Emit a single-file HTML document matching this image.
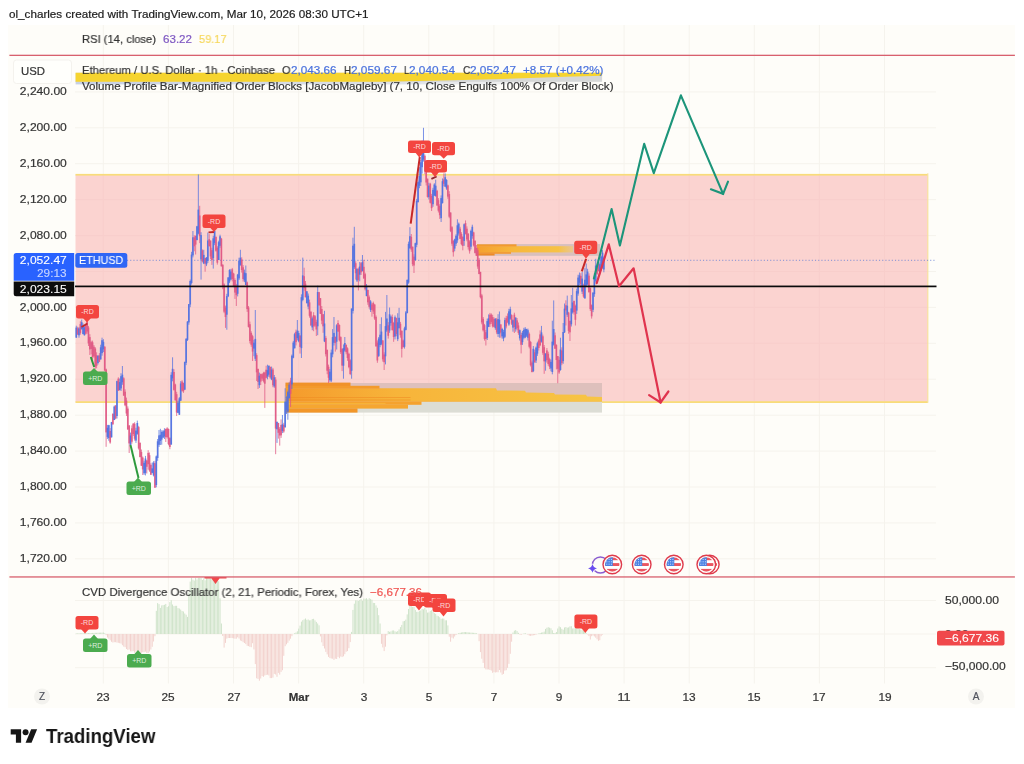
<!DOCTYPE html>
<html><head><meta charset="utf-8"><title>ETHUSD chart</title>
<style>
html,body{margin:0;padding:0;background:#ffffff;}
body{width:1024px;height:764px;position:relative;overflow:hidden;font-family:"Liberation Sans",sans-serif;}
.t{position:absolute;white-space:nowrap;font-family:"Liberation Sans",sans-serif;-webkit-text-stroke:0.2px currentColor;will-change:transform;}
#panel{position:absolute;left:8.3px;top:24.6px;width:1007.2px;height:683.8px;background:#fefdf9;}
svg{position:absolute;left:0;top:0;}
.box{position:absolute;}
</style></head><body>
<div id="panel"></div>
<svg width="1024" height="764" viewBox="0 0 1024 764">
<!-- grid -->
<rect x="102.8" y="25" width="1" height="658.5" fill="#f5f3ed"/>
<rect x="167.89999999999998" y="25" width="1" height="658.5" fill="#f5f3ed"/>
<rect x="233.0" y="25" width="1" height="658.5" fill="#f5f3ed"/>
<rect x="298.09999999999997" y="25" width="1" height="658.5" fill="#f5f3ed"/>
<rect x="363.2" y="25" width="1" height="658.5" fill="#f5f3ed"/>
<rect x="428.3" y="25" width="1" height="658.5" fill="#f5f3ed"/>
<rect x="493.4" y="25" width="1" height="658.5" fill="#f5f3ed"/>
<rect x="558.4999999999999" y="25" width="1" height="658.5" fill="#f5f3ed"/>
<rect x="623.5999999999999" y="25" width="1" height="658.5" fill="#f5f3ed"/>
<rect x="688.6999999999999" y="25" width="1" height="658.5" fill="#f5f3ed"/>
<rect x="753.8" y="25" width="1" height="658.5" fill="#f5f3ed"/>
<rect x="818.8999999999999" y="25" width="1" height="658.5" fill="#f5f3ed"/>
<rect x="883.9999999999999" y="25" width="1" height="658.5" fill="#f5f3ed"/>
<rect x="75" y="558.3" width="861" height="1" fill="#f5f3ed"/>
<rect x="75" y="522.4" width="861" height="1" fill="#f5f3ed"/>
<rect x="75" y="486.5" width="861" height="1" fill="#f5f3ed"/>
<rect x="75" y="450.6" width="861" height="1" fill="#f5f3ed"/>
<rect x="75" y="414.7" width="861" height="1" fill="#f5f3ed"/>
<rect x="75" y="378.7" width="861" height="1" fill="#f5f3ed"/>
<rect x="75" y="342.8" width="861" height="1" fill="#f5f3ed"/>
<rect x="75" y="306.9" width="861" height="1" fill="#f5f3ed"/>
<rect x="75" y="271.0" width="861" height="1" fill="#f5f3ed"/>
<rect x="75" y="235.1" width="861" height="1" fill="#f5f3ed"/>
<rect x="75" y="199.1" width="861" height="1" fill="#f5f3ed"/>
<rect x="75" y="163.2" width="861" height="1" fill="#f5f3ed"/>
<rect x="75" y="127.3" width="861" height="1" fill="#f5f3ed"/>
<rect x="75" y="91.4" width="861" height="1" fill="#f5f3ed"/>
<rect x="75" y="600.0" width="861" height="1" fill="#f5f3ed"/>
<rect x="75" y="633.5" width="861" height="1" fill="#f5f3ed"/>
<rect x="75" y="667.2" width="861" height="1" fill="#f5f3ed"/>
<!-- top order block stripe -->
<defs><linearGradient id="sg" x1="0" x2="1"><stop offset="0" stop-color="#c6d0e4"/><stop offset="0.6" stop-color="#d3d8e2" stop-opacity="0.8"/><stop offset="1" stop-color="#d8dadf" stop-opacity="0"/></linearGradient></defs>
<rect x="75.6" y="81" width="526.5" height="3.4" fill="url(#sg)"/>
<rect x="75.6" y="72.8" width="526.5" height="9" fill="#d6d8d8"/>
<polygon points="75.6,72.8 602.1,72.8 602.1,75.8 565,76.7 494,79.2 420,81 380,81.8 75.6,81.8" fill="#f6d42f"/>
<!-- pink zone -->
<rect x="75.5" y="174.6" width="852.5" height="227.6" fill="#fbd3d0"/>
<rect x="75.5" y="173.9" width="852.5" height="1.7" fill="#f8dc7a"/>
<rect x="75.5" y="401.2" width="852.5" height="1.8" fill="#f8dc7a"/>
<rect x="927.2" y="173.3" width="1.2" height="229.5" fill="#f8e3a0"/>
<g opacity="0.3"><rect x="102.8" y="175" width="1" height="226" fill="#f3c4c2"/><rect x="167.89999999999998" y="175" width="1" height="226" fill="#f3c4c2"/><rect x="233.0" y="175" width="1" height="226" fill="#f3c4c2"/><rect x="298.09999999999997" y="175" width="1" height="226" fill="#f3c4c2"/><rect x="363.2" y="175" width="1" height="226" fill="#f3c4c2"/><rect x="428.3" y="175" width="1" height="226" fill="#f3c4c2"/><rect x="493.4" y="175" width="1" height="226" fill="#f3c4c2"/><rect x="558.4999999999999" y="175" width="1" height="226" fill="#f3c4c2"/><rect x="623.5999999999999" y="175" width="1" height="226" fill="#f3c4c2"/><rect x="688.6999999999999" y="175" width="1" height="226" fill="#f3c4c2"/><rect x="753.8" y="175" width="1" height="226" fill="#f3c4c2"/><rect x="818.8999999999999" y="175" width="1" height="226" fill="#f3c4c2"/><rect x="883.9999999999999" y="175" width="1" height="226" fill="#f3c4c2"/>
<rect x="75.5" y="378.7" width="852" height="1" fill="#f3c4c2"/><rect x="75.5" y="342.8" width="852" height="1" fill="#f3c4c2"/><rect x="75.5" y="306.9" width="852" height="1" fill="#f3c4c2"/><rect x="75.5" y="271.0" width="852" height="1" fill="#f3c4c2"/><rect x="75.5" y="235.1" width="852" height="1" fill="#f3c4c2"/><rect x="75.5" y="199.1" width="852" height="1" fill="#f3c4c2"/></g>
<!-- order block bottom -->
<g id="ob1">
<rect x="285.5" y="383" width="316.5" height="19" fill="#dec0bc"/>
<rect x="285.5" y="402" width="316.5" height="10.6" fill="#dcddd5"/>
<defs><linearGradient id="og" x1="0" x2="1"><stop offset="0" stop-color="#f59a2c"/><stop offset="0.35" stop-color="#f7b43a"/><stop offset="1" stop-color="#f7c545"/></linearGradient></defs>
<polygon points="285.5,388.2 496,388.2 497,390.4 525,390.8 526,392.6 554,393 555,394.4 586,394.7 587,396.6 602,397 602,401.8 285.5,401.8" fill="url(#og)"/>
<rect x="285.5" y="382.6" width="65" height="3.4" fill="#f0922a"/>
<rect x="285.5" y="385.8" width="94" height="2.8" fill="#f39a2c"/>
<rect x="285.5" y="401.5" width="136" height="3.3" fill="#f5a22e"/>
<rect x="285.5" y="404.6" width="122.5" height="4" fill="#f6a630"/>
<rect x="285.5" y="408.4" width="72" height="4.2" fill="#f29628"/>
<rect x="285.5" y="397.2" width="125" height="0.8" fill="#f08c22" opacity="0.7"/>
<rect x="285.5" y="399.6" width="125" height="0.8" fill="#f08c22" opacity="0.7"/>
<rect x="285.5" y="403.2" width="100" height="0.7" fill="#f7c040" opacity="0.8"/>
</g>
<!-- order block upper -->
<g id="ob2">
<rect x="477" y="244.3" width="123" height="11.2" fill="#dcc0bc"/>
<rect x="477" y="244.3" width="123" height="0.8" fill="#c9bcc0" opacity="0.7"/>
<rect x="477" y="254.8" width="123" height="0.8" fill="#c9bcc0" opacity="0.7"/>
<defs><linearGradient id="og2" x1="0" x2="1"><stop offset="0" stop-color="#f5a030"/><stop offset="0.4" stop-color="#f7b83c"/><stop offset="0.85" stop-color="#f7c244"/><stop offset="1" stop-color="#f3c870" stop-opacity="0.6"/></linearGradient></defs>
<rect x="477" y="246.2" width="96" height="6.2" fill="url(#og2)"/>
<rect x="477" y="244.3" width="39.5" height="2.2" fill="#f39a2e"/>
<rect x="477" y="252.1" width="34" height="1.7" fill="#f39a2e"/>
<rect x="477" y="253.5" width="17.6" height="2" fill="#ee8a28"/>
</g>
<!-- dotted price line -->
<line x1="127" y1="260.3" x2="936" y2="260.3" stroke="#6f86d6" stroke-width="0.9" stroke-dasharray="1.1 2.1"/>
<!-- candles -->
<g id="candles">
<rect x="75.78" y="325.7" width="1" height="12.2" fill="#4f6fe0" opacity="0.75"/>
<rect x="75.43" y="327.6" width="1.7" height="10.0" fill="#4f6fe0" opacity="0.88"/>
<rect x="77.13" y="326.7" width="1" height="8.0" fill="#df5683" opacity="0.75"/>
<rect x="76.78" y="328.2" width="1.7" height="6.4" fill="#df5683" opacity="0.88"/>
<rect x="78.49" y="327.1" width="1" height="10.6" fill="#4f6fe0" opacity="0.75"/>
<rect x="78.14" y="328.4" width="1.7" height="6.9" fill="#4f6fe0" opacity="0.88"/>
<rect x="79.85" y="321.3" width="1" height="13.4" fill="#df5683" opacity="0.75"/>
<rect x="79.50" y="324.1" width="1.7" height="8.8" fill="#df5683" opacity="0.88"/>
<rect x="81.20" y="319.6" width="1" height="10.1" fill="#4f6fe0" opacity="0.75"/>
<rect x="80.85" y="322.2" width="1.7" height="6.7" fill="#4f6fe0" opacity="0.88"/>
<rect x="82.56" y="323.5" width="1" height="10.9" fill="#4f6fe0" opacity="0.75"/>
<rect x="82.21" y="326.0" width="1.7" height="8.0" fill="#4f6fe0" opacity="0.88"/>
<rect x="83.92" y="325.7" width="1" height="9.8" fill="#4f6fe0" opacity="0.75"/>
<rect x="83.57" y="327.3" width="1.7" height="8.0" fill="#4f6fe0" opacity="0.88"/>
<rect x="85.27" y="323.7" width="1" height="10.9" fill="#df5683" opacity="0.75"/>
<rect x="84.92" y="325.0" width="1.7" height="8.7" fill="#df5683" opacity="0.88"/>
<rect x="86.63" y="319.4" width="1" height="14.3" fill="#df5683" opacity="0.75"/>
<rect x="86.28" y="321.7" width="1.7" height="9.8" fill="#df5683" opacity="0.88"/>
<rect x="87.98" y="325.9" width="1" height="20.1" fill="#df5683" opacity="0.75"/>
<rect x="87.63" y="327.5" width="1.7" height="15.9" fill="#df5683" opacity="0.88"/>
<rect x="89.34" y="334.2" width="1" height="20.8" fill="#df5683" opacity="0.75"/>
<rect x="88.99" y="337.1" width="1.7" height="12.3" fill="#df5683" opacity="0.88"/>
<rect x="90.70" y="340.7" width="1" height="13.6" fill="#df5683" opacity="0.75"/>
<rect x="90.35" y="342.2" width="1.7" height="6.7" fill="#df5683" opacity="0.88"/>
<rect x="92.05" y="340.6" width="1" height="18.9" fill="#df5683" opacity="0.75"/>
<rect x="91.70" y="342.3" width="1.7" height="14.6" fill="#df5683" opacity="0.88"/>
<rect x="93.41" y="345.0" width="1" height="12.7" fill="#df5683" opacity="0.75"/>
<rect x="93.06" y="346.7" width="1.7" height="9.6" fill="#df5683" opacity="0.88"/>
<rect x="94.77" y="347.2" width="1" height="21.7" fill="#df5683" opacity="0.75"/>
<rect x="94.42" y="348.6" width="1.7" height="18.3" fill="#df5683" opacity="0.88"/>
<rect x="96.12" y="352.3" width="1" height="16.0" fill="#df5683" opacity="0.75"/>
<rect x="95.77" y="355.3" width="1.7" height="10.5" fill="#df5683" opacity="0.88"/>
<rect x="97.48" y="355.6" width="1" height="8.9" fill="#4f6fe0" opacity="0.75"/>
<rect x="97.13" y="355.6" width="1.7" height="7.4" fill="#4f6fe0" opacity="0.88"/>
<rect x="98.83" y="353.1" width="1" height="9.0" fill="#df5683" opacity="0.75"/>
<rect x="98.48" y="355.4" width="1.7" height="6.3" fill="#df5683" opacity="0.88"/>
<rect x="100.19" y="344.7" width="1" height="14.9" fill="#4f6fe0" opacity="0.75"/>
<rect x="99.84" y="347.3" width="1.7" height="12.1" fill="#4f6fe0" opacity="0.88"/>
<rect x="101.55" y="337.7" width="1" height="18.0" fill="#4f6fe0" opacity="0.75"/>
<rect x="101.20" y="340.2" width="1.7" height="12.9" fill="#4f6fe0" opacity="0.88"/>
<rect x="102.90" y="339.2" width="1" height="12.9" fill="#4f6fe0" opacity="0.75"/>
<rect x="102.55" y="341.9" width="1.7" height="7.4" fill="#4f6fe0" opacity="0.88"/>
<rect x="104.26" y="346.1" width="1" height="25.0" fill="#df5683" opacity="0.75"/>
<rect x="103.91" y="346.8" width="1.7" height="23.6" fill="#df5683" opacity="0.88"/>
<rect x="105.62" y="368.6" width="1" height="78.2" fill="#df5683" opacity="0.75"/>
<rect x="105.27" y="369.4" width="1.7" height="63.0" fill="#df5683" opacity="0.88"/>
<rect x="106.97" y="424.9" width="1" height="14.0" fill="#4f6fe0" opacity="0.75"/>
<rect x="106.62" y="427.8" width="1.7" height="9.1" fill="#4f6fe0" opacity="0.88"/>
<rect x="108.33" y="424.8" width="1" height="16.0" fill="#4f6fe0" opacity="0.75"/>
<rect x="107.98" y="425.2" width="1.7" height="12.9" fill="#4f6fe0" opacity="0.88"/>
<rect x="109.68" y="428.1" width="1" height="15.6" fill="#df5683" opacity="0.75"/>
<rect x="109.33" y="431.0" width="1.7" height="11.5" fill="#df5683" opacity="0.88"/>
<rect x="111.04" y="421.9" width="1" height="15.6" fill="#4f6fe0" opacity="0.75"/>
<rect x="110.69" y="422.1" width="1.7" height="15.2" fill="#4f6fe0" opacity="0.88"/>
<rect x="112.40" y="413.6" width="1" height="10.9" fill="#df5683" opacity="0.75"/>
<rect x="112.05" y="413.7" width="1.7" height="10.7" fill="#df5683" opacity="0.88"/>
<rect x="113.75" y="405.6" width="1" height="14.5" fill="#4f6fe0" opacity="0.75"/>
<rect x="113.40" y="406.6" width="1.7" height="13.4" fill="#4f6fe0" opacity="0.88"/>
<rect x="115.11" y="405.1" width="1" height="14.1" fill="#df5683" opacity="0.75"/>
<rect x="114.76" y="405.5" width="1.7" height="12.9" fill="#df5683" opacity="0.88"/>
<rect x="116.47" y="380.7" width="1" height="37.8" fill="#4f6fe0" opacity="0.75"/>
<rect x="116.12" y="381.1" width="1.7" height="34.9" fill="#4f6fe0" opacity="0.88"/>
<rect x="117.82" y="377.3" width="1" height="13.6" fill="#df5683" opacity="0.75"/>
<rect x="117.47" y="378.7" width="1.7" height="11.9" fill="#df5683" opacity="0.88"/>
<rect x="119.18" y="378.5" width="1" height="12.0" fill="#4f6fe0" opacity="0.75"/>
<rect x="118.83" y="382.1" width="1.7" height="7.9" fill="#4f6fe0" opacity="0.88"/>
<rect x="120.53" y="373.2" width="1" height="17.8" fill="#4f6fe0" opacity="0.75"/>
<rect x="120.18" y="376.2" width="1.7" height="12.2" fill="#4f6fe0" opacity="0.88"/>
<rect x="121.89" y="366.0" width="1" height="18.8" fill="#4f6fe0" opacity="0.75"/>
<rect x="121.54" y="374.7" width="1.7" height="7.5" fill="#4f6fe0" opacity="0.88"/>
<rect x="123.25" y="377.2" width="1" height="18.8" fill="#df5683" opacity="0.75"/>
<rect x="122.90" y="378.3" width="1.7" height="17.2" fill="#df5683" opacity="0.88"/>
<rect x="124.60" y="389.3" width="1" height="16.9" fill="#df5683" opacity="0.75"/>
<rect x="124.25" y="391.7" width="1.7" height="13.6" fill="#df5683" opacity="0.88"/>
<rect x="125.96" y="397.6" width="1" height="18.4" fill="#df5683" opacity="0.75"/>
<rect x="125.61" y="400.6" width="1.7" height="12.9" fill="#df5683" opacity="0.88"/>
<rect x="127.32" y="406.4" width="1" height="23.6" fill="#df5683" opacity="0.75"/>
<rect x="126.97" y="408.6" width="1.7" height="20.7" fill="#df5683" opacity="0.88"/>
<rect x="128.67" y="425.3" width="1" height="27.7" fill="#df5683" opacity="0.75"/>
<rect x="128.32" y="425.4" width="1.7" height="18.0" fill="#df5683" opacity="0.88"/>
<rect x="130.03" y="432.6" width="1" height="13.7" fill="#4f6fe0" opacity="0.75"/>
<rect x="129.68" y="435.5" width="1.7" height="9.5" fill="#4f6fe0" opacity="0.88"/>
<rect x="131.38" y="425.4" width="1" height="18.3" fill="#df5683" opacity="0.75"/>
<rect x="131.03" y="428.3" width="1.7" height="13.4" fill="#df5683" opacity="0.88"/>
<rect x="132.74" y="423.1" width="1" height="12.9" fill="#df5683" opacity="0.75"/>
<rect x="132.39" y="423.7" width="1.7" height="10.4" fill="#df5683" opacity="0.88"/>
<rect x="134.10" y="422.3" width="1" height="18.3" fill="#df5683" opacity="0.75"/>
<rect x="133.75" y="423.8" width="1.7" height="14.9" fill="#df5683" opacity="0.88"/>
<rect x="135.45" y="427.8" width="1" height="15.1" fill="#4f6fe0" opacity="0.75"/>
<rect x="135.10" y="430.6" width="1.7" height="10.0" fill="#4f6fe0" opacity="0.88"/>
<rect x="136.81" y="420.6" width="1" height="14.1" fill="#4f6fe0" opacity="0.75"/>
<rect x="136.46" y="423.0" width="1.7" height="10.8" fill="#4f6fe0" opacity="0.88"/>
<rect x="138.17" y="425.9" width="1" height="23.7" fill="#df5683" opacity="0.75"/>
<rect x="137.82" y="427.1" width="1.7" height="21.3" fill="#df5683" opacity="0.88"/>
<rect x="139.52" y="442.4" width="1" height="15.0" fill="#df5683" opacity="0.75"/>
<rect x="139.17" y="442.9" width="1.7" height="14.1" fill="#df5683" opacity="0.88"/>
<rect x="140.88" y="449.5" width="1" height="16.5" fill="#df5683" opacity="0.75"/>
<rect x="140.53" y="452.0" width="1.7" height="13.7" fill="#df5683" opacity="0.88"/>
<rect x="142.23" y="456.5" width="1" height="18.5" fill="#df5683" opacity="0.75"/>
<rect x="141.88" y="457.6" width="1.7" height="11.8" fill="#df5683" opacity="0.88"/>
<rect x="143.59" y="460.8" width="1" height="14.1" fill="#4f6fe0" opacity="0.75"/>
<rect x="143.24" y="462.8" width="1.7" height="10.5" fill="#4f6fe0" opacity="0.88"/>
<rect x="144.95" y="455.9" width="1" height="19.5" fill="#4f6fe0" opacity="0.75"/>
<rect x="144.60" y="458.5" width="1.7" height="14.4" fill="#4f6fe0" opacity="0.88"/>
<rect x="146.30" y="459.9" width="1" height="13.6" fill="#df5683" opacity="0.75"/>
<rect x="145.95" y="460.6" width="1.7" height="6.2" fill="#df5683" opacity="0.88"/>
<rect x="147.66" y="450.2" width="1" height="19.4" fill="#df5683" opacity="0.75"/>
<rect x="147.31" y="452.9" width="1.7" height="11.3" fill="#df5683" opacity="0.88"/>
<rect x="149.02" y="452.5" width="1" height="19.3" fill="#df5683" opacity="0.75"/>
<rect x="148.67" y="455.2" width="1.7" height="15.3" fill="#df5683" opacity="0.88"/>
<rect x="150.37" y="463.3" width="1" height="11.5" fill="#df5683" opacity="0.75"/>
<rect x="150.02" y="464.9" width="1.7" height="9.9" fill="#df5683" opacity="0.88"/>
<rect x="151.73" y="462.5" width="1" height="10.8" fill="#4f6fe0" opacity="0.75"/>
<rect x="151.38" y="468.4" width="1.7" height="4.4" fill="#4f6fe0" opacity="0.88"/>
<rect x="153.08" y="461.2" width="1" height="15.2" fill="#4f6fe0" opacity="0.75"/>
<rect x="152.73" y="462.8" width="1.7" height="12.5" fill="#4f6fe0" opacity="0.88"/>
<rect x="154.44" y="460.9" width="1" height="27.1" fill="#df5683" opacity="0.75"/>
<rect x="154.09" y="463.2" width="1.7" height="24.4" fill="#df5683" opacity="0.88"/>
<rect x="155.80" y="455.5" width="1" height="31.8" fill="#4f6fe0" opacity="0.75"/>
<rect x="155.45" y="456.4" width="1.7" height="28.6" fill="#4f6fe0" opacity="0.88"/>
<rect x="157.15" y="439.0" width="1" height="21.8" fill="#4f6fe0" opacity="0.75"/>
<rect x="156.80" y="441.3" width="1.7" height="16.7" fill="#4f6fe0" opacity="0.88"/>
<rect x="158.51" y="430.0" width="1" height="16.9" fill="#4f6fe0" opacity="0.75"/>
<rect x="158.16" y="435.4" width="1.7" height="9.4" fill="#4f6fe0" opacity="0.88"/>
<rect x="159.87" y="428.8" width="1" height="16.2" fill="#4f6fe0" opacity="0.75"/>
<rect x="159.52" y="434.8" width="1.7" height="6.2" fill="#4f6fe0" opacity="0.88"/>
<rect x="161.22" y="430.3" width="1" height="14.4" fill="#4f6fe0" opacity="0.75"/>
<rect x="160.87" y="432.0" width="1.7" height="7.6" fill="#4f6fe0" opacity="0.88"/>
<rect x="162.58" y="430.1" width="1" height="7.7" fill="#4f6fe0" opacity="0.75"/>
<rect x="162.23" y="431.4" width="1.7" height="6.2" fill="#4f6fe0" opacity="0.88"/>
<rect x="163.93" y="428.2" width="1" height="10.8" fill="#4f6fe0" opacity="0.75"/>
<rect x="163.58" y="430.6" width="1.7" height="5.8" fill="#4f6fe0" opacity="0.88"/>
<rect x="165.29" y="428.6" width="1" height="13.4" fill="#df5683" opacity="0.75"/>
<rect x="164.94" y="429.0" width="1.7" height="8.2" fill="#df5683" opacity="0.88"/>
<rect x="166.65" y="427.2" width="1" height="11.4" fill="#df5683" opacity="0.75"/>
<rect x="166.30" y="428.4" width="1.7" height="8.8" fill="#df5683" opacity="0.88"/>
<rect x="168.00" y="428.5" width="1" height="16.8" fill="#df5683" opacity="0.75"/>
<rect x="167.65" y="429.0" width="1.7" height="15.1" fill="#df5683" opacity="0.88"/>
<rect x="169.36" y="437.2" width="1" height="12.0" fill="#df5683" opacity="0.75"/>
<rect x="169.01" y="438.1" width="1.7" height="8.9" fill="#df5683" opacity="0.88"/>
<rect x="170.72" y="372.2" width="1" height="72.4" fill="#4f6fe0" opacity="0.75"/>
<rect x="170.37" y="374.8" width="1.7" height="69.8" fill="#4f6fe0" opacity="0.88"/>
<rect x="172.07" y="357.3" width="1" height="24.0" fill="#4f6fe0" opacity="0.75"/>
<rect x="171.72" y="368.8" width="1.7" height="9.5" fill="#4f6fe0" opacity="0.88"/>
<rect x="173.43" y="369.2" width="1" height="21.5" fill="#df5683" opacity="0.75"/>
<rect x="173.08" y="372.0" width="1.7" height="17.9" fill="#df5683" opacity="0.88"/>
<rect x="174.78" y="383.7" width="1" height="16.9" fill="#df5683" opacity="0.75"/>
<rect x="174.43" y="384.5" width="1.7" height="15.7" fill="#df5683" opacity="0.88"/>
<rect x="176.14" y="391.8" width="1" height="24.2" fill="#df5683" opacity="0.75"/>
<rect x="175.79" y="394.2" width="1.7" height="18.3" fill="#df5683" opacity="0.88"/>
<rect x="177.50" y="400.7" width="1" height="12.4" fill="#4f6fe0" opacity="0.75"/>
<rect x="177.15" y="402.8" width="1.7" height="10.0" fill="#4f6fe0" opacity="0.88"/>
<rect x="178.85" y="397.1" width="1" height="17.9" fill="#4f6fe0" opacity="0.75"/>
<rect x="178.50" y="398.3" width="1.7" height="16.4" fill="#4f6fe0" opacity="0.88"/>
<rect x="180.21" y="381.1" width="1" height="19.8" fill="#4f6fe0" opacity="0.75"/>
<rect x="179.86" y="383.5" width="1.7" height="17.2" fill="#4f6fe0" opacity="0.88"/>
<rect x="181.57" y="380.2" width="1" height="11.5" fill="#df5683" opacity="0.75"/>
<rect x="181.22" y="381.6" width="1.7" height="9.1" fill="#df5683" opacity="0.88"/>
<rect x="182.92" y="382.6" width="1" height="10.3" fill="#df5683" opacity="0.75"/>
<rect x="182.57" y="383.0" width="1.7" height="8.3" fill="#df5683" opacity="0.88"/>
<rect x="184.28" y="361.5" width="1" height="28.3" fill="#4f6fe0" opacity="0.75"/>
<rect x="183.93" y="362.0" width="1.7" height="27.7" fill="#4f6fe0" opacity="0.88"/>
<rect x="185.63" y="338.0" width="1" height="27.1" fill="#4f6fe0" opacity="0.75"/>
<rect x="185.28" y="338.9" width="1.7" height="23.9" fill="#4f6fe0" opacity="0.88"/>
<rect x="186.99" y="321.1" width="1" height="19.9" fill="#4f6fe0" opacity="0.75"/>
<rect x="186.64" y="321.6" width="1.7" height="18.3" fill="#4f6fe0" opacity="0.88"/>
<rect x="188.35" y="304.1" width="1" height="20.6" fill="#4f6fe0" opacity="0.75"/>
<rect x="188.00" y="304.1" width="1.7" height="18.3" fill="#4f6fe0" opacity="0.88"/>
<rect x="189.70" y="279.5" width="1" height="27.7" fill="#4f6fe0" opacity="0.75"/>
<rect x="189.35" y="281.0" width="1.7" height="23.5" fill="#4f6fe0" opacity="0.88"/>
<rect x="191.06" y="251.8" width="1" height="32.7" fill="#4f6fe0" opacity="0.75"/>
<rect x="190.71" y="254.6" width="1.7" height="28.4" fill="#4f6fe0" opacity="0.88"/>
<rect x="192.42" y="231.0" width="1" height="26.4" fill="#4f6fe0" opacity="0.75"/>
<rect x="192.07" y="237.3" width="1.7" height="18.1" fill="#4f6fe0" opacity="0.88"/>
<rect x="193.77" y="235.3" width="1" height="16.0" fill="#df5683" opacity="0.75"/>
<rect x="193.42" y="237.4" width="1.7" height="8.9" fill="#df5683" opacity="0.88"/>
<rect x="195.13" y="235.5" width="1" height="19.0" fill="#df5683" opacity="0.75"/>
<rect x="194.78" y="235.9" width="1.7" height="8.7" fill="#df5683" opacity="0.88"/>
<rect x="196.48" y="225.9" width="1" height="14.5" fill="#4f6fe0" opacity="0.75"/>
<rect x="196.13" y="226.3" width="1.7" height="13.7" fill="#4f6fe0" opacity="0.88"/>
<rect x="197.84" y="174.4" width="1" height="60.0" fill="#4f6fe0" opacity="0.75"/>
<rect x="197.49" y="209.6" width="1.7" height="24.0" fill="#4f6fe0" opacity="0.88"/>
<rect x="199.20" y="205.8" width="1" height="37.3" fill="#df5683" opacity="0.75"/>
<rect x="198.85" y="215.5" width="1.7" height="20.7" fill="#df5683" opacity="0.88"/>
<rect x="200.55" y="232.2" width="1" height="47.4" fill="#4f6fe0" opacity="0.75"/>
<rect x="200.20" y="235.1" width="1.7" height="24.4" fill="#4f6fe0" opacity="0.88"/>
<rect x="201.91" y="249.4" width="1" height="13.0" fill="#df5683" opacity="0.75"/>
<rect x="201.56" y="250.4" width="1.7" height="11.0" fill="#df5683" opacity="0.88"/>
<rect x="203.27" y="249.8" width="1" height="14.3" fill="#4f6fe0" opacity="0.75"/>
<rect x="202.92" y="254.9" width="1.7" height="8.6" fill="#4f6fe0" opacity="0.88"/>
<rect x="204.62" y="257.8" width="1" height="13.9" fill="#df5683" opacity="0.75"/>
<rect x="204.27" y="258.1" width="1.7" height="5.4" fill="#df5683" opacity="0.88"/>
<rect x="205.98" y="257.0" width="1" height="9.1" fill="#4f6fe0" opacity="0.75"/>
<rect x="205.63" y="257.7" width="1.7" height="6.7" fill="#4f6fe0" opacity="0.88"/>
<rect x="207.33" y="232.5" width="1" height="30.5" fill="#4f6fe0" opacity="0.75"/>
<rect x="206.98" y="240.5" width="1.7" height="20.4" fill="#4f6fe0" opacity="0.88"/>
<rect x="208.69" y="234.1" width="1" height="12.5" fill="#df5683" opacity="0.75"/>
<rect x="208.34" y="239.2" width="1.7" height="6.9" fill="#df5683" opacity="0.88"/>
<rect x="210.05" y="240.5" width="1" height="18.5" fill="#df5683" opacity="0.75"/>
<rect x="209.70" y="240.6" width="1.7" height="15.8" fill="#df5683" opacity="0.88"/>
<rect x="211.40" y="247.8" width="1" height="17.1" fill="#df5683" opacity="0.75"/>
<rect x="211.05" y="250.2" width="1.7" height="9.8" fill="#df5683" opacity="0.88"/>
<rect x="212.76" y="235.8" width="1" height="32.8" fill="#4f6fe0" opacity="0.75"/>
<rect x="212.41" y="238.3" width="1.7" height="19.8" fill="#4f6fe0" opacity="0.88"/>
<rect x="214.12" y="229.0" width="1" height="16.1" fill="#4f6fe0" opacity="0.75"/>
<rect x="213.77" y="231.0" width="1.7" height="11.9" fill="#4f6fe0" opacity="0.88"/>
<rect x="215.47" y="236.5" width="1" height="15.2" fill="#df5683" opacity="0.75"/>
<rect x="215.12" y="236.9" width="1.7" height="13.8" fill="#df5683" opacity="0.88"/>
<rect x="216.83" y="246.2" width="1" height="18.4" fill="#df5683" opacity="0.75"/>
<rect x="216.48" y="247.8" width="1.7" height="14.9" fill="#df5683" opacity="0.88"/>
<rect x="218.18" y="240.7" width="1" height="19.3" fill="#4f6fe0" opacity="0.75"/>
<rect x="217.83" y="242.2" width="1.7" height="17.8" fill="#4f6fe0" opacity="0.88"/>
<rect x="219.54" y="234.7" width="1" height="13.1" fill="#4f6fe0" opacity="0.75"/>
<rect x="219.19" y="236.3" width="1.7" height="9.5" fill="#4f6fe0" opacity="0.88"/>
<rect x="220.90" y="237.9" width="1" height="28.6" fill="#df5683" opacity="0.75"/>
<rect x="220.55" y="238.7" width="1.7" height="27.6" fill="#df5683" opacity="0.88"/>
<rect x="222.25" y="264.2" width="1" height="25.0" fill="#df5683" opacity="0.75"/>
<rect x="221.90" y="264.8" width="1.7" height="22.2" fill="#df5683" opacity="0.88"/>
<rect x="223.61" y="283.3" width="1" height="29.9" fill="#df5683" opacity="0.75"/>
<rect x="223.26" y="284.4" width="1.7" height="27.3" fill="#df5683" opacity="0.88"/>
<rect x="224.97" y="305.6" width="1" height="22.3" fill="#df5683" opacity="0.75"/>
<rect x="224.62" y="307.5" width="1.7" height="9.5" fill="#df5683" opacity="0.88"/>
<rect x="226.32" y="293.8" width="1" height="35.9" fill="#4f6fe0" opacity="0.75"/>
<rect x="225.97" y="296.1" width="1.7" height="18.6" fill="#4f6fe0" opacity="0.88"/>
<rect x="227.68" y="277.3" width="1" height="19.8" fill="#4f6fe0" opacity="0.75"/>
<rect x="227.33" y="277.4" width="1.7" height="18.9" fill="#4f6fe0" opacity="0.88"/>
<rect x="229.03" y="269.2" width="1" height="13.9" fill="#4f6fe0" opacity="0.75"/>
<rect x="228.68" y="270.0" width="1.7" height="11.5" fill="#4f6fe0" opacity="0.88"/>
<rect x="230.39" y="268.9" width="1" height="11.3" fill="#4f6fe0" opacity="0.75"/>
<rect x="230.04" y="271.5" width="1.7" height="8.0" fill="#4f6fe0" opacity="0.88"/>
<rect x="231.75" y="267.9" width="1" height="13.5" fill="#df5683" opacity="0.75"/>
<rect x="231.40" y="269.3" width="1.7" height="9.7" fill="#df5683" opacity="0.88"/>
<rect x="233.10" y="272.8" width="1" height="14.4" fill="#df5683" opacity="0.75"/>
<rect x="232.75" y="273.6" width="1.7" height="13.0" fill="#df5683" opacity="0.88"/>
<rect x="234.46" y="278.3" width="1" height="20.6" fill="#df5683" opacity="0.75"/>
<rect x="234.11" y="280.0" width="1.7" height="12.6" fill="#df5683" opacity="0.88"/>
<rect x="235.82" y="283.9" width="1" height="22.1" fill="#df5683" opacity="0.75"/>
<rect x="235.47" y="286.4" width="1.7" height="8.8" fill="#df5683" opacity="0.88"/>
<rect x="237.17" y="273.9" width="1" height="22.5" fill="#4f6fe0" opacity="0.75"/>
<rect x="236.82" y="274.6" width="1.7" height="19.2" fill="#4f6fe0" opacity="0.88"/>
<rect x="238.53" y="257.7" width="1" height="22.3" fill="#4f6fe0" opacity="0.75"/>
<rect x="238.18" y="260.6" width="1.7" height="17.8" fill="#4f6fe0" opacity="0.88"/>
<rect x="239.88" y="249.8" width="1" height="16.0" fill="#4f6fe0" opacity="0.75"/>
<rect x="239.53" y="257.7" width="1.7" height="7.2" fill="#4f6fe0" opacity="0.88"/>
<rect x="241.24" y="257.3" width="1" height="15.3" fill="#df5683" opacity="0.75"/>
<rect x="240.89" y="259.5" width="1.7" height="10.5" fill="#df5683" opacity="0.88"/>
<rect x="242.60" y="265.1" width="1" height="16.5" fill="#df5683" opacity="0.75"/>
<rect x="242.25" y="267.3" width="1.7" height="11.7" fill="#df5683" opacity="0.88"/>
<rect x="243.95" y="269.6" width="1" height="12.5" fill="#4f6fe0" opacity="0.75"/>
<rect x="243.60" y="272.6" width="1.7" height="7.7" fill="#4f6fe0" opacity="0.88"/>
<rect x="245.31" y="265.5" width="1" height="19.7" fill="#4f6fe0" opacity="0.75"/>
<rect x="244.96" y="273.2" width="1.7" height="11.8" fill="#4f6fe0" opacity="0.88"/>
<rect x="246.67" y="281.5" width="1" height="30.4" fill="#df5683" opacity="0.75"/>
<rect x="246.32" y="282.4" width="1.7" height="26.7" fill="#df5683" opacity="0.88"/>
<rect x="248.02" y="306.0" width="1" height="21.5" fill="#df5683" opacity="0.75"/>
<rect x="247.67" y="307.5" width="1.7" height="19.4" fill="#df5683" opacity="0.88"/>
<rect x="249.38" y="321.6" width="1" height="21.8" fill="#df5683" opacity="0.75"/>
<rect x="249.03" y="324.2" width="1.7" height="16.8" fill="#df5683" opacity="0.88"/>
<rect x="250.73" y="331.3" width="1" height="15.5" fill="#df5683" opacity="0.75"/>
<rect x="250.38" y="333.0" width="1.7" height="11.7" fill="#df5683" opacity="0.88"/>
<rect x="252.09" y="334.8" width="1" height="26.2" fill="#df5683" opacity="0.75"/>
<rect x="251.74" y="336.2" width="1.7" height="15.4" fill="#df5683" opacity="0.88"/>
<rect x="253.45" y="339.9" width="1" height="16.3" fill="#4f6fe0" opacity="0.75"/>
<rect x="253.10" y="342.7" width="1.7" height="5.9" fill="#4f6fe0" opacity="0.88"/>
<rect x="254.80" y="310.0" width="1" height="51.0" fill="#4f6fe0" opacity="0.75"/>
<rect x="254.45" y="338.9" width="1.7" height="19.9" fill="#4f6fe0" opacity="0.88"/>
<rect x="256.16" y="353.2" width="1" height="27.8" fill="#df5683" opacity="0.75"/>
<rect x="255.81" y="355.1" width="1.7" height="17.2" fill="#df5683" opacity="0.88"/>
<rect x="257.52" y="368.5" width="1" height="20.5" fill="#df5683" opacity="0.75"/>
<rect x="257.17" y="369.0" width="1.7" height="12.9" fill="#df5683" opacity="0.88"/>
<rect x="258.87" y="372.6" width="1" height="15.3" fill="#4f6fe0" opacity="0.75"/>
<rect x="258.52" y="375.7" width="1.7" height="9.5" fill="#4f6fe0" opacity="0.88"/>
<rect x="260.23" y="373.6" width="1" height="11.4" fill="#df5683" opacity="0.75"/>
<rect x="259.88" y="374.1" width="1.7" height="7.5" fill="#df5683" opacity="0.88"/>
<rect x="261.58" y="373.5" width="1" height="7.2" fill="#df5683" opacity="0.75"/>
<rect x="261.23" y="374.2" width="1.7" height="4.4" fill="#df5683" opacity="0.88"/>
<rect x="262.94" y="371.8" width="1" height="10.6" fill="#df5683" opacity="0.75"/>
<rect x="262.59" y="373.0" width="1.7" height="7.8" fill="#df5683" opacity="0.88"/>
<rect x="264.30" y="371.7" width="1" height="36.2" fill="#df5683" opacity="0.75"/>
<rect x="263.95" y="372.5" width="1.7" height="11.2" fill="#df5683" opacity="0.88"/>
<rect x="265.65" y="365.7" width="1" height="12.7" fill="#df5683" opacity="0.75"/>
<rect x="265.30" y="369.7" width="1.7" height="8.1" fill="#df5683" opacity="0.88"/>
<rect x="267.01" y="364.7" width="1" height="14.6" fill="#4f6fe0" opacity="0.75"/>
<rect x="266.66" y="370.2" width="1.7" height="6.2" fill="#4f6fe0" opacity="0.88"/>
<rect x="268.37" y="365.6" width="1" height="11.2" fill="#4f6fe0" opacity="0.75"/>
<rect x="268.02" y="365.7" width="1.7" height="9.0" fill="#4f6fe0" opacity="0.88"/>
<rect x="269.72" y="366.8" width="1" height="11.9" fill="#df5683" opacity="0.75"/>
<rect x="269.37" y="366.8" width="1.7" height="10.7" fill="#df5683" opacity="0.88"/>
<rect x="271.08" y="366.6" width="1" height="13.6" fill="#4f6fe0" opacity="0.75"/>
<rect x="270.73" y="369.5" width="1.7" height="9.9" fill="#4f6fe0" opacity="0.88"/>
<rect x="272.43" y="367.9" width="1" height="19.3" fill="#df5683" opacity="0.75"/>
<rect x="272.08" y="369.5" width="1.7" height="15.7" fill="#df5683" opacity="0.88"/>
<rect x="273.79" y="375.0" width="1" height="12.8" fill="#4f6fe0" opacity="0.75"/>
<rect x="273.44" y="377.3" width="1.7" height="9.1" fill="#4f6fe0" opacity="0.88"/>
<rect x="275.15" y="377.2" width="1" height="77.0" fill="#df5683" opacity="0.75"/>
<rect x="274.80" y="379.6" width="1.7" height="49.0" fill="#df5683" opacity="0.88"/>
<rect x="276.50" y="421.5" width="1" height="21.4" fill="#4f6fe0" opacity="0.75"/>
<rect x="276.15" y="421.9" width="1.7" height="7.4" fill="#4f6fe0" opacity="0.88"/>
<rect x="277.86" y="422.8" width="1" height="15.8" fill="#df5683" opacity="0.75"/>
<rect x="277.51" y="423.0" width="1.7" height="9.8" fill="#df5683" opacity="0.88"/>
<rect x="279.22" y="427.0" width="1" height="18.6" fill="#df5683" opacity="0.75"/>
<rect x="278.87" y="428.8" width="1.7" height="6.7" fill="#df5683" opacity="0.88"/>
<rect x="280.57" y="419.4" width="1" height="18.5" fill="#df5683" opacity="0.75"/>
<rect x="280.22" y="424.9" width="1.7" height="10.4" fill="#df5683" opacity="0.88"/>
<rect x="281.93" y="415.0" width="1" height="18.1" fill="#4f6fe0" opacity="0.75"/>
<rect x="281.58" y="424.3" width="1.7" height="6.6" fill="#4f6fe0" opacity="0.88"/>
<rect x="283.28" y="422.8" width="1" height="10.0" fill="#df5683" opacity="0.75"/>
<rect x="282.93" y="424.8" width="1.7" height="6.7" fill="#df5683" opacity="0.88"/>
<rect x="284.64" y="388.3" width="1" height="39.5" fill="#4f6fe0" opacity="0.75"/>
<rect x="284.29" y="401.7" width="1.7" height="25.4" fill="#4f6fe0" opacity="0.88"/>
<rect x="286.00" y="396.4" width="1" height="17.6" fill="#4f6fe0" opacity="0.75"/>
<rect x="285.65" y="401.5" width="1.7" height="8.2" fill="#4f6fe0" opacity="0.88"/>
<rect x="287.35" y="390.7" width="1" height="29.0" fill="#4f6fe0" opacity="0.75"/>
<rect x="287.00" y="392.2" width="1.7" height="19.5" fill="#4f6fe0" opacity="0.88"/>
<rect x="288.71" y="382.3" width="1" height="16.4" fill="#4f6fe0" opacity="0.75"/>
<rect x="288.36" y="384.8" width="1.7" height="13.2" fill="#4f6fe0" opacity="0.88"/>
<rect x="290.07" y="377.8" width="1" height="29.2" fill="#df5683" opacity="0.75"/>
<rect x="289.72" y="380.6" width="1.7" height="13.3" fill="#df5683" opacity="0.88"/>
<rect x="291.42" y="354.5" width="1" height="34.5" fill="#4f6fe0" opacity="0.75"/>
<rect x="291.07" y="355.7" width="1.7" height="28.7" fill="#4f6fe0" opacity="0.88"/>
<rect x="292.78" y="340.9" width="1" height="17.4" fill="#4f6fe0" opacity="0.75"/>
<rect x="292.43" y="342.6" width="1.7" height="15.1" fill="#4f6fe0" opacity="0.88"/>
<rect x="294.13" y="332.8" width="1" height="15.6" fill="#4f6fe0" opacity="0.75"/>
<rect x="293.78" y="334.2" width="1.7" height="14.1" fill="#4f6fe0" opacity="0.88"/>
<rect x="295.49" y="329.6" width="1" height="15.8" fill="#df5683" opacity="0.75"/>
<rect x="295.14" y="331.8" width="1.7" height="10.3" fill="#df5683" opacity="0.88"/>
<rect x="296.85" y="320.0" width="1" height="20.3" fill="#4f6fe0" opacity="0.75"/>
<rect x="296.50" y="330.6" width="1.7" height="7.5" fill="#4f6fe0" opacity="0.88"/>
<rect x="298.20" y="330.8" width="1" height="11.5" fill="#4f6fe0" opacity="0.75"/>
<rect x="297.85" y="333.1" width="1.7" height="8.2" fill="#4f6fe0" opacity="0.88"/>
<rect x="299.56" y="335.0" width="1" height="18.6" fill="#df5683" opacity="0.75"/>
<rect x="299.21" y="335.8" width="1.7" height="11.1" fill="#df5683" opacity="0.88"/>
<rect x="300.92" y="294.3" width="1" height="63.7" fill="#4f6fe0" opacity="0.75"/>
<rect x="300.57" y="297.2" width="1.7" height="50.9" fill="#4f6fe0" opacity="0.88"/>
<rect x="302.27" y="257.6" width="1" height="43.6" fill="#4f6fe0" opacity="0.75"/>
<rect x="301.92" y="275.4" width="1.7" height="24.5" fill="#4f6fe0" opacity="0.88"/>
<rect x="303.63" y="267.7" width="1" height="23.1" fill="#df5683" opacity="0.75"/>
<rect x="303.28" y="276.2" width="1.7" height="11.9" fill="#df5683" opacity="0.88"/>
<rect x="304.98" y="281.0" width="1" height="16.3" fill="#df5683" opacity="0.75"/>
<rect x="304.63" y="283.7" width="1.7" height="13.6" fill="#df5683" opacity="0.88"/>
<rect x="306.34" y="291.2" width="1" height="12.1" fill="#4f6fe0" opacity="0.75"/>
<rect x="305.99" y="291.3" width="1.7" height="11.9" fill="#4f6fe0" opacity="0.88"/>
<rect x="307.70" y="293.5" width="1" height="15.8" fill="#4f6fe0" opacity="0.75"/>
<rect x="307.35" y="295.7" width="1.7" height="10.9" fill="#4f6fe0" opacity="0.88"/>
<rect x="309.05" y="299.6" width="1" height="18.1" fill="#df5683" opacity="0.75"/>
<rect x="308.70" y="302.4" width="1.7" height="13.4" fill="#df5683" opacity="0.88"/>
<rect x="310.41" y="310.9" width="1" height="15.2" fill="#df5683" opacity="0.75"/>
<rect x="310.06" y="311.9" width="1.7" height="13.4" fill="#df5683" opacity="0.88"/>
<rect x="311.77" y="316.5" width="1" height="13.7" fill="#4f6fe0" opacity="0.75"/>
<rect x="311.42" y="318.4" width="1.7" height="9.0" fill="#4f6fe0" opacity="0.88"/>
<rect x="313.12" y="312.2" width="1" height="19.0" fill="#df5683" opacity="0.75"/>
<rect x="312.77" y="315.1" width="1.7" height="11.2" fill="#df5683" opacity="0.88"/>
<rect x="314.48" y="315.0" width="1" height="12.1" fill="#df5683" opacity="0.75"/>
<rect x="314.13" y="316.2" width="1.7" height="9.4" fill="#df5683" opacity="0.88"/>
<rect x="315.83" y="319.7" width="1" height="16.3" fill="#df5683" opacity="0.75"/>
<rect x="315.48" y="321.9" width="1.7" height="7.6" fill="#df5683" opacity="0.88"/>
<rect x="317.19" y="285.7" width="1" height="49.5" fill="#4f6fe0" opacity="0.75"/>
<rect x="316.84" y="292.0" width="1.7" height="34.3" fill="#4f6fe0" opacity="0.88"/>
<rect x="318.55" y="291.9" width="1" height="13.9" fill="#df5683" opacity="0.75"/>
<rect x="318.20" y="292.2" width="1.7" height="13.0" fill="#df5683" opacity="0.88"/>
<rect x="319.90" y="298.0" width="1" height="15.9" fill="#df5683" opacity="0.75"/>
<rect x="319.55" y="298.2" width="1.7" height="15.6" fill="#df5683" opacity="0.88"/>
<rect x="321.26" y="306.0" width="1" height="18.2" fill="#df5683" opacity="0.75"/>
<rect x="320.91" y="309.0" width="1.7" height="11.6" fill="#df5683" opacity="0.88"/>
<rect x="322.62" y="314.0" width="1" height="18.8" fill="#df5683" opacity="0.75"/>
<rect x="322.27" y="314.3" width="1.7" height="12.0" fill="#df5683" opacity="0.88"/>
<rect x="323.97" y="310.8" width="1" height="31.3" fill="#4f6fe0" opacity="0.75"/>
<rect x="323.62" y="323.5" width="1.7" height="17.9" fill="#4f6fe0" opacity="0.88"/>
<rect x="325.33" y="335.9" width="1" height="20.6" fill="#df5683" opacity="0.75"/>
<rect x="324.98" y="337.9" width="1.7" height="16.3" fill="#df5683" opacity="0.88"/>
<rect x="326.68" y="349.5" width="1" height="24.7" fill="#df5683" opacity="0.75"/>
<rect x="326.33" y="349.9" width="1.7" height="20.8" fill="#df5683" opacity="0.88"/>
<rect x="328.04" y="364.6" width="1" height="18.4" fill="#df5683" opacity="0.75"/>
<rect x="327.69" y="366.8" width="1.7" height="11.0" fill="#df5683" opacity="0.88"/>
<rect x="329.40" y="369.0" width="1" height="12.8" fill="#4f6fe0" opacity="0.75"/>
<rect x="329.05" y="371.7" width="1.7" height="8.4" fill="#4f6fe0" opacity="0.88"/>
<rect x="330.75" y="349.6" width="1" height="32.5" fill="#4f6fe0" opacity="0.75"/>
<rect x="330.40" y="352.6" width="1.7" height="28.0" fill="#4f6fe0" opacity="0.88"/>
<rect x="332.11" y="329.1" width="1" height="28.2" fill="#4f6fe0" opacity="0.75"/>
<rect x="331.76" y="337.1" width="1.7" height="17.2" fill="#4f6fe0" opacity="0.88"/>
<rect x="333.47" y="317.0" width="1" height="28.5" fill="#4f6fe0" opacity="0.75"/>
<rect x="333.12" y="332.9" width="1.7" height="9.9" fill="#4f6fe0" opacity="0.88"/>
<rect x="334.82" y="336.4" width="1" height="15.2" fill="#df5683" opacity="0.75"/>
<rect x="334.47" y="337.0" width="1.7" height="6.1" fill="#df5683" opacity="0.88"/>
<rect x="336.18" y="324.2" width="1" height="25.3" fill="#4f6fe0" opacity="0.75"/>
<rect x="335.83" y="325.3" width="1.7" height="16.4" fill="#4f6fe0" opacity="0.88"/>
<rect x="337.53" y="320.2" width="1" height="11.7" fill="#df5683" opacity="0.75"/>
<rect x="337.18" y="323.0" width="1.7" height="8.5" fill="#df5683" opacity="0.88"/>
<rect x="338.89" y="324.4" width="1" height="17.1" fill="#df5683" opacity="0.75"/>
<rect x="338.54" y="325.0" width="1.7" height="15.3" fill="#df5683" opacity="0.88"/>
<rect x="340.25" y="336.3" width="1" height="17.7" fill="#df5683" opacity="0.75"/>
<rect x="339.90" y="337.1" width="1.7" height="15.1" fill="#df5683" opacity="0.88"/>
<rect x="341.60" y="348.7" width="1" height="22.4" fill="#df5683" opacity="0.75"/>
<rect x="341.25" y="348.7" width="1.7" height="16.9" fill="#df5683" opacity="0.88"/>
<rect x="342.96" y="344.4" width="1" height="34.3" fill="#4f6fe0" opacity="0.75"/>
<rect x="342.61" y="348.1" width="1.7" height="17.6" fill="#4f6fe0" opacity="0.88"/>
<rect x="344.32" y="337.0" width="1" height="14.7" fill="#4f6fe0" opacity="0.75"/>
<rect x="343.97" y="343.0" width="1.7" height="7.5" fill="#4f6fe0" opacity="0.88"/>
<rect x="345.67" y="344.4" width="1" height="9.9" fill="#df5683" opacity="0.75"/>
<rect x="345.32" y="344.9" width="1.7" height="7.3" fill="#df5683" opacity="0.88"/>
<rect x="347.03" y="347.3" width="1" height="13.5" fill="#df5683" opacity="0.75"/>
<rect x="346.68" y="348.3" width="1.7" height="9.7" fill="#df5683" opacity="0.88"/>
<rect x="348.38" y="352.7" width="1" height="15.6" fill="#df5683" opacity="0.75"/>
<rect x="348.03" y="353.8" width="1.7" height="13.3" fill="#df5683" opacity="0.88"/>
<rect x="349.74" y="359.2" width="1" height="15.9" fill="#df5683" opacity="0.75"/>
<rect x="349.39" y="360.3" width="1.7" height="13.7" fill="#df5683" opacity="0.88"/>
<rect x="351.10" y="308.5" width="1" height="70.2" fill="#4f6fe0" opacity="0.75"/>
<rect x="350.75" y="308.5" width="1.7" height="62.3" fill="#4f6fe0" opacity="0.88"/>
<rect x="352.45" y="237.7" width="1" height="75.8" fill="#4f6fe0" opacity="0.75"/>
<rect x="352.10" y="245.7" width="1.7" height="65.2" fill="#4f6fe0" opacity="0.88"/>
<rect x="353.81" y="226.8" width="1" height="42.2" fill="#4f6fe0" opacity="0.75"/>
<rect x="353.46" y="243.8" width="1.7" height="23.5" fill="#4f6fe0" opacity="0.88"/>
<rect x="355.17" y="261.3" width="1" height="18.3" fill="#df5683" opacity="0.75"/>
<rect x="354.82" y="263.2" width="1.7" height="10.0" fill="#df5683" opacity="0.88"/>
<rect x="356.52" y="268.1" width="1" height="13.9" fill="#4f6fe0" opacity="0.75"/>
<rect x="356.17" y="269.0" width="1.7" height="11.5" fill="#4f6fe0" opacity="0.88"/>
<rect x="357.88" y="267.6" width="1" height="22.8" fill="#df5683" opacity="0.75"/>
<rect x="357.53" y="269.1" width="1.7" height="10.8" fill="#df5683" opacity="0.88"/>
<rect x="359.23" y="262.0" width="1" height="19.3" fill="#4f6fe0" opacity="0.75"/>
<rect x="358.88" y="266.5" width="1.7" height="8.2" fill="#4f6fe0" opacity="0.88"/>
<rect x="360.59" y="262.0" width="1" height="13.0" fill="#df5683" opacity="0.75"/>
<rect x="360.24" y="263.2" width="1.7" height="9.1" fill="#df5683" opacity="0.88"/>
<rect x="361.95" y="255.0" width="1" height="16.5" fill="#4f6fe0" opacity="0.75"/>
<rect x="361.60" y="262.2" width="1.7" height="8.7" fill="#4f6fe0" opacity="0.88"/>
<rect x="363.30" y="259.9" width="1" height="19.0" fill="#df5683" opacity="0.75"/>
<rect x="362.95" y="266.8" width="1.7" height="11.5" fill="#df5683" opacity="0.88"/>
<rect x="364.66" y="272.7" width="1" height="17.8" fill="#df5683" opacity="0.75"/>
<rect x="364.31" y="274.2" width="1.7" height="15.1" fill="#df5683" opacity="0.88"/>
<rect x="366.02" y="284.0" width="1" height="12.2" fill="#4f6fe0" opacity="0.75"/>
<rect x="365.67" y="286.7" width="1.7" height="9.4" fill="#4f6fe0" opacity="0.88"/>
<rect x="367.37" y="289.8" width="1" height="15.0" fill="#df5683" opacity="0.75"/>
<rect x="367.02" y="289.9" width="1.7" height="12.4" fill="#df5683" opacity="0.88"/>
<rect x="368.73" y="295.5" width="1" height="13.2" fill="#df5683" opacity="0.75"/>
<rect x="368.38" y="297.2" width="1.7" height="9.6" fill="#df5683" opacity="0.88"/>
<rect x="370.08" y="300.1" width="1" height="11.9" fill="#4f6fe0" opacity="0.75"/>
<rect x="369.73" y="301.4" width="1.7" height="8.6" fill="#4f6fe0" opacity="0.88"/>
<rect x="371.44" y="302.7" width="1" height="14.0" fill="#df5683" opacity="0.75"/>
<rect x="371.09" y="304.5" width="1.7" height="5.3" fill="#df5683" opacity="0.88"/>
<rect x="372.80" y="301.6" width="1" height="12.4" fill="#df5683" opacity="0.75"/>
<rect x="372.45" y="303.0" width="1.7" height="8.5" fill="#df5683" opacity="0.88"/>
<rect x="374.15" y="304.2" width="1" height="15.7" fill="#df5683" opacity="0.75"/>
<rect x="373.80" y="304.5" width="1.7" height="14.0" fill="#df5683" opacity="0.88"/>
<rect x="375.51" y="315.4" width="1" height="31.1" fill="#df5683" opacity="0.75"/>
<rect x="375.16" y="316.9" width="1.7" height="29.5" fill="#df5683" opacity="0.88"/>
<rect x="376.87" y="340.4" width="1" height="22.4" fill="#df5683" opacity="0.75"/>
<rect x="376.52" y="342.6" width="1.7" height="17.9" fill="#df5683" opacity="0.88"/>
<rect x="378.22" y="337.0" width="1" height="20.0" fill="#4f6fe0" opacity="0.75"/>
<rect x="377.87" y="338.5" width="1.7" height="17.4" fill="#4f6fe0" opacity="0.88"/>
<rect x="379.58" y="324.0" width="1" height="23.2" fill="#4f6fe0" opacity="0.75"/>
<rect x="379.23" y="334.7" width="1.7" height="10.3" fill="#4f6fe0" opacity="0.88"/>
<rect x="380.93" y="317.3" width="1" height="27.9" fill="#4f6fe0" opacity="0.75"/>
<rect x="380.58" y="331.6" width="1.7" height="12.2" fill="#4f6fe0" opacity="0.88"/>
<rect x="382.29" y="340.0" width="1" height="21.6" fill="#df5683" opacity="0.75"/>
<rect x="381.94" y="340.5" width="1.7" height="18.8" fill="#df5683" opacity="0.88"/>
<rect x="383.65" y="352.3" width="1" height="17.7" fill="#df5683" opacity="0.75"/>
<rect x="383.30" y="354.5" width="1.7" height="7.7" fill="#df5683" opacity="0.88"/>
<rect x="385.00" y="311.9" width="1" height="52.5" fill="#4f6fe0" opacity="0.75"/>
<rect x="384.65" y="326.1" width="1.7" height="30.2" fill="#4f6fe0" opacity="0.88"/>
<rect x="386.36" y="295.0" width="1" height="37.0" fill="#4f6fe0" opacity="0.75"/>
<rect x="386.01" y="318.5" width="1.7" height="12.0" fill="#4f6fe0" opacity="0.88"/>
<rect x="387.72" y="322.1" width="1" height="16.5" fill="#df5683" opacity="0.75"/>
<rect x="387.37" y="325.3" width="1.7" height="10.5" fill="#df5683" opacity="0.88"/>
<rect x="389.07" y="307.5" width="1" height="25.3" fill="#4f6fe0" opacity="0.75"/>
<rect x="388.72" y="314.3" width="1.7" height="16.2" fill="#4f6fe0" opacity="0.88"/>
<rect x="390.43" y="315.5" width="1" height="10.2" fill="#4f6fe0" opacity="0.75"/>
<rect x="390.08" y="316.6" width="1.7" height="6.5" fill="#4f6fe0" opacity="0.88"/>
<rect x="391.78" y="314.5" width="1" height="16.0" fill="#df5683" opacity="0.75"/>
<rect x="391.43" y="317.1" width="1.7" height="13.0" fill="#df5683" opacity="0.88"/>
<rect x="393.14" y="321.9" width="1" height="19.9" fill="#df5683" opacity="0.75"/>
<rect x="392.79" y="323.0" width="1.7" height="14.0" fill="#df5683" opacity="0.88"/>
<rect x="394.50" y="315.5" width="1" height="23.9" fill="#4f6fe0" opacity="0.75"/>
<rect x="394.15" y="317.2" width="1.7" height="19.3" fill="#4f6fe0" opacity="0.88"/>
<rect x="395.85" y="317.6" width="1" height="18.7" fill="#df5683" opacity="0.75"/>
<rect x="395.50" y="318.1" width="1.7" height="15.9" fill="#df5683" opacity="0.88"/>
<rect x="397.21" y="313.2" width="1" height="27.9" fill="#4f6fe0" opacity="0.75"/>
<rect x="396.86" y="322.3" width="1.7" height="16.9" fill="#4f6fe0" opacity="0.88"/>
<rect x="398.57" y="307.8" width="1" height="20.5" fill="#4f6fe0" opacity="0.75"/>
<rect x="398.22" y="317.8" width="1.7" height="10.4" fill="#4f6fe0" opacity="0.88"/>
<rect x="399.92" y="321.9" width="1" height="15.8" fill="#df5683" opacity="0.75"/>
<rect x="399.57" y="323.8" width="1.7" height="11.4" fill="#df5683" opacity="0.88"/>
<rect x="401.28" y="330.4" width="1" height="27.1" fill="#df5683" opacity="0.75"/>
<rect x="400.93" y="330.8" width="1.7" height="18.1" fill="#df5683" opacity="0.88"/>
<rect x="402.63" y="339.5" width="1" height="8.0" fill="#df5683" opacity="0.75"/>
<rect x="402.28" y="340.5" width="1.7" height="6.6" fill="#df5683" opacity="0.88"/>
<rect x="403.99" y="326.7" width="1" height="21.9" fill="#4f6fe0" opacity="0.75"/>
<rect x="403.64" y="328.4" width="1.7" height="18.4" fill="#4f6fe0" opacity="0.88"/>
<rect x="405.35" y="311.0" width="1" height="19.4" fill="#4f6fe0" opacity="0.75"/>
<rect x="405.00" y="312.4" width="1.7" height="17.5" fill="#4f6fe0" opacity="0.88"/>
<rect x="406.70" y="279.4" width="1" height="33.9" fill="#4f6fe0" opacity="0.75"/>
<rect x="406.35" y="279.9" width="1.7" height="33.2" fill="#4f6fe0" opacity="0.88"/>
<rect x="408.06" y="241.6" width="1" height="42.2" fill="#4f6fe0" opacity="0.75"/>
<rect x="407.71" y="243.9" width="1.7" height="38.7" fill="#4f6fe0" opacity="0.88"/>
<rect x="409.42" y="227.2" width="1" height="21.8" fill="#4f6fe0" opacity="0.75"/>
<rect x="409.07" y="236.2" width="1.7" height="11.8" fill="#4f6fe0" opacity="0.88"/>
<rect x="410.77" y="234.0" width="1" height="17.8" fill="#df5683" opacity="0.75"/>
<rect x="410.42" y="236.8" width="1.7" height="12.8" fill="#df5683" opacity="0.88"/>
<rect x="412.13" y="246.6" width="1" height="19.6" fill="#df5683" opacity="0.75"/>
<rect x="411.78" y="246.7" width="1.7" height="17.5" fill="#df5683" opacity="0.88"/>
<rect x="413.48" y="254.3" width="1" height="18.7" fill="#df5683" opacity="0.75"/>
<rect x="413.13" y="256.6" width="1.7" height="8.9" fill="#df5683" opacity="0.88"/>
<rect x="414.84" y="242.7" width="1" height="17.8" fill="#4f6fe0" opacity="0.75"/>
<rect x="414.49" y="243.2" width="1.7" height="16.8" fill="#4f6fe0" opacity="0.88"/>
<rect x="416.20" y="198.9" width="1" height="48.3" fill="#4f6fe0" opacity="0.75"/>
<rect x="415.85" y="200.8" width="1.7" height="44.0" fill="#4f6fe0" opacity="0.88"/>
<rect x="417.55" y="180.5" width="1" height="21.8" fill="#4f6fe0" opacity="0.75"/>
<rect x="417.20" y="182.1" width="1.7" height="20.1" fill="#4f6fe0" opacity="0.88"/>
<rect x="418.91" y="167.1" width="1" height="21.1" fill="#4f6fe0" opacity="0.75"/>
<rect x="418.56" y="176.1" width="1.7" height="9.6" fill="#4f6fe0" opacity="0.88"/>
<rect x="420.27" y="160.0" width="1" height="26.0" fill="#4f6fe0" opacity="0.75"/>
<rect x="419.92" y="162.3" width="1.7" height="20.0" fill="#4f6fe0" opacity="0.88"/>
<rect x="421.62" y="140.5" width="1" height="33.1" fill="#4f6fe0" opacity="0.75"/>
<rect x="421.27" y="152.9" width="1.7" height="14.3" fill="#4f6fe0" opacity="0.88"/>
<rect x="422.98" y="127.8" width="1" height="33.8" fill="#4f6fe0" opacity="0.75"/>
<rect x="422.63" y="147.6" width="1.7" height="11.9" fill="#4f6fe0" opacity="0.88"/>
<rect x="424.33" y="154.5" width="1" height="19.6" fill="#df5683" opacity="0.75"/>
<rect x="423.98" y="155.8" width="1.7" height="15.9" fill="#df5683" opacity="0.88"/>
<rect x="425.69" y="166.2" width="1" height="19.3" fill="#df5683" opacity="0.75"/>
<rect x="425.34" y="168.1" width="1.7" height="14.4" fill="#df5683" opacity="0.88"/>
<rect x="427.05" y="178.6" width="1" height="19.0" fill="#df5683" opacity="0.75"/>
<rect x="426.70" y="178.7" width="1.7" height="18.2" fill="#df5683" opacity="0.88"/>
<rect x="428.40" y="182.8" width="1" height="16.7" fill="#4f6fe0" opacity="0.75"/>
<rect x="428.05" y="185.6" width="1.7" height="11.6" fill="#4f6fe0" opacity="0.88"/>
<rect x="429.76" y="182.8" width="1" height="20.7" fill="#df5683" opacity="0.75"/>
<rect x="429.41" y="183.8" width="1.7" height="19.0" fill="#df5683" opacity="0.88"/>
<rect x="431.12" y="193.9" width="1" height="17.1" fill="#df5683" opacity="0.75"/>
<rect x="430.77" y="195.9" width="1.7" height="12.2" fill="#df5683" opacity="0.88"/>
<rect x="432.47" y="187.8" width="1" height="19.0" fill="#4f6fe0" opacity="0.75"/>
<rect x="432.12" y="189.9" width="1.7" height="14.3" fill="#4f6fe0" opacity="0.88"/>
<rect x="433.83" y="183.2" width="1" height="12.8" fill="#4f6fe0" opacity="0.75"/>
<rect x="433.48" y="184.5" width="1.7" height="10.9" fill="#4f6fe0" opacity="0.88"/>
<rect x="435.18" y="179.7" width="1" height="16.7" fill="#4f6fe0" opacity="0.75"/>
<rect x="434.83" y="185.7" width="1.7" height="10.6" fill="#4f6fe0" opacity="0.88"/>
<rect x="436.54" y="189.8" width="1" height="16.1" fill="#df5683" opacity="0.75"/>
<rect x="436.19" y="190.8" width="1.7" height="14.6" fill="#df5683" opacity="0.88"/>
<rect x="437.90" y="198.1" width="1" height="14.4" fill="#df5683" opacity="0.75"/>
<rect x="437.55" y="200.2" width="1.7" height="10.5" fill="#df5683" opacity="0.88"/>
<rect x="439.25" y="204.2" width="1" height="14.7" fill="#df5683" opacity="0.75"/>
<rect x="438.90" y="205.9" width="1.7" height="9.3" fill="#df5683" opacity="0.88"/>
<rect x="440.61" y="195.4" width="1" height="26.6" fill="#4f6fe0" opacity="0.75"/>
<rect x="440.26" y="198.1" width="1.7" height="20.0" fill="#4f6fe0" opacity="0.88"/>
<rect x="441.97" y="178.4" width="1" height="25.1" fill="#4f6fe0" opacity="0.75"/>
<rect x="441.62" y="181.2" width="1.7" height="21.9" fill="#4f6fe0" opacity="0.88"/>
<rect x="443.32" y="173.4" width="1" height="12.9" fill="#df5683" opacity="0.75"/>
<rect x="442.97" y="179.4" width="1.7" height="4.4" fill="#df5683" opacity="0.88"/>
<rect x="444.68" y="173.4" width="1" height="13.5" fill="#4f6fe0" opacity="0.75"/>
<rect x="444.33" y="177.2" width="1.7" height="9.4" fill="#4f6fe0" opacity="0.88"/>
<rect x="446.03" y="179.1" width="1" height="10.7" fill="#4f6fe0" opacity="0.75"/>
<rect x="445.68" y="180.0" width="1.7" height="8.4" fill="#4f6fe0" opacity="0.88"/>
<rect x="447.39" y="184.6" width="1" height="14.2" fill="#df5683" opacity="0.75"/>
<rect x="447.04" y="185.4" width="1.7" height="11.2" fill="#df5683" opacity="0.88"/>
<rect x="448.75" y="191.2" width="1" height="27.0" fill="#df5683" opacity="0.75"/>
<rect x="448.40" y="194.1" width="1.7" height="22.6" fill="#df5683" opacity="0.88"/>
<rect x="450.10" y="212.4" width="1" height="19.7" fill="#df5683" opacity="0.75"/>
<rect x="449.75" y="212.5" width="1.7" height="18.4" fill="#df5683" opacity="0.88"/>
<rect x="451.46" y="226.1" width="1" height="19.7" fill="#df5683" opacity="0.75"/>
<rect x="451.11" y="227.2" width="1.7" height="16.5" fill="#df5683" opacity="0.88"/>
<rect x="452.82" y="240.4" width="1" height="16.2" fill="#df5683" opacity="0.75"/>
<rect x="452.47" y="240.7" width="1.7" height="11.5" fill="#df5683" opacity="0.88"/>
<rect x="454.17" y="238.7" width="1" height="12.5" fill="#4f6fe0" opacity="0.75"/>
<rect x="453.82" y="239.3" width="1.7" height="9.3" fill="#4f6fe0" opacity="0.88"/>
<rect x="455.53" y="234.3" width="1" height="11.7" fill="#4f6fe0" opacity="0.75"/>
<rect x="455.18" y="235.8" width="1.7" height="7.9" fill="#4f6fe0" opacity="0.88"/>
<rect x="456.88" y="219.3" width="1" height="23.5" fill="#4f6fe0" opacity="0.75"/>
<rect x="456.53" y="225.3" width="1.7" height="15.0" fill="#4f6fe0" opacity="0.88"/>
<rect x="458.24" y="222.5" width="1" height="13.1" fill="#4f6fe0" opacity="0.75"/>
<rect x="457.89" y="223.7" width="1.7" height="9.8" fill="#4f6fe0" opacity="0.88"/>
<rect x="459.60" y="226.8" width="1" height="12.3" fill="#df5683" opacity="0.75"/>
<rect x="459.25" y="228.7" width="1.7" height="10.1" fill="#df5683" opacity="0.88"/>
<rect x="460.95" y="232.2" width="1" height="13.1" fill="#df5683" opacity="0.75"/>
<rect x="460.60" y="234.0" width="1.7" height="10.1" fill="#df5683" opacity="0.88"/>
<rect x="462.31" y="236.5" width="1" height="13.8" fill="#df5683" opacity="0.75"/>
<rect x="461.96" y="236.7" width="1.7" height="9.2" fill="#df5683" opacity="0.88"/>
<rect x="463.67" y="223.5" width="1" height="22.3" fill="#4f6fe0" opacity="0.75"/>
<rect x="463.32" y="224.3" width="1.7" height="16.6" fill="#4f6fe0" opacity="0.88"/>
<rect x="465.02" y="220.4" width="1" height="14.1" fill="#df5683" opacity="0.75"/>
<rect x="464.67" y="223.1" width="1.7" height="10.7" fill="#df5683" opacity="0.88"/>
<rect x="466.38" y="226.4" width="1" height="14.9" fill="#df5683" opacity="0.75"/>
<rect x="466.03" y="228.7" width="1.7" height="10.7" fill="#df5683" opacity="0.88"/>
<rect x="467.73" y="233.2" width="1" height="16.4" fill="#df5683" opacity="0.75"/>
<rect x="467.38" y="233.7" width="1.7" height="13.4" fill="#df5683" opacity="0.88"/>
<rect x="469.09" y="240.2" width="1" height="13.4" fill="#df5683" opacity="0.75"/>
<rect x="468.74" y="241.5" width="1.7" height="9.7" fill="#df5683" opacity="0.88"/>
<rect x="470.45" y="229.6" width="1" height="19.8" fill="#4f6fe0" opacity="0.75"/>
<rect x="470.10" y="230.9" width="1.7" height="15.8" fill="#4f6fe0" opacity="0.88"/>
<rect x="471.80" y="224.7" width="1" height="14.0" fill="#4f6fe0" opacity="0.75"/>
<rect x="471.45" y="226.8" width="1.7" height="9.3" fill="#4f6fe0" opacity="0.88"/>
<rect x="473.16" y="231.7" width="1" height="14.8" fill="#df5683" opacity="0.75"/>
<rect x="472.81" y="232.4" width="1.7" height="13.0" fill="#df5683" opacity="0.88"/>
<rect x="474.52" y="240.0" width="1" height="13.5" fill="#df5683" opacity="0.75"/>
<rect x="474.17" y="241.0" width="1.7" height="11.9" fill="#df5683" opacity="0.88"/>
<rect x="475.87" y="245.0" width="1" height="11.0" fill="#df5683" opacity="0.75"/>
<rect x="475.52" y="247.9" width="1.7" height="7.8" fill="#df5683" opacity="0.88"/>
<rect x="477.23" y="248.0" width="1" height="20.8" fill="#df5683" opacity="0.75"/>
<rect x="476.88" y="250.3" width="1.7" height="16.2" fill="#df5683" opacity="0.88"/>
<rect x="478.58" y="258.0" width="1" height="16.3" fill="#df5683" opacity="0.75"/>
<rect x="478.23" y="259.9" width="1.7" height="14.1" fill="#df5683" opacity="0.88"/>
<rect x="479.94" y="271.8" width="1" height="26.6" fill="#df5683" opacity="0.75"/>
<rect x="479.59" y="271.9" width="1.7" height="25.3" fill="#df5683" opacity="0.88"/>
<rect x="481.30" y="293.9" width="1" height="30.4" fill="#df5683" opacity="0.75"/>
<rect x="480.95" y="295.4" width="1.7" height="27.0" fill="#df5683" opacity="0.88"/>
<rect x="482.65" y="317.0" width="1" height="14.5" fill="#df5683" opacity="0.75"/>
<rect x="482.30" y="318.8" width="1.7" height="11.5" fill="#df5683" opacity="0.88"/>
<rect x="484.01" y="323.9" width="1" height="16.7" fill="#df5683" opacity="0.75"/>
<rect x="483.66" y="325.2" width="1.7" height="13.7" fill="#df5683" opacity="0.88"/>
<rect x="485.37" y="330.0" width="1" height="15.5" fill="#df5683" opacity="0.75"/>
<rect x="485.02" y="332.2" width="1.7" height="6.8" fill="#df5683" opacity="0.88"/>
<rect x="486.72" y="318.6" width="1" height="21.4" fill="#4f6fe0" opacity="0.75"/>
<rect x="486.37" y="321.1" width="1.7" height="16.8" fill="#4f6fe0" opacity="0.88"/>
<rect x="488.08" y="314.4" width="1" height="12.7" fill="#4f6fe0" opacity="0.75"/>
<rect x="487.73" y="318.4" width="1.7" height="8.4" fill="#4f6fe0" opacity="0.88"/>
<rect x="489.43" y="312.9" width="1" height="14.1" fill="#df5683" opacity="0.75"/>
<rect x="489.08" y="314.7" width="1.7" height="9.5" fill="#df5683" opacity="0.88"/>
<rect x="490.79" y="313.4" width="1" height="10.5" fill="#df5683" opacity="0.75"/>
<rect x="490.44" y="314.6" width="1.7" height="7.3" fill="#df5683" opacity="0.88"/>
<rect x="492.15" y="314.8" width="1" height="12.7" fill="#df5683" opacity="0.75"/>
<rect x="491.80" y="317.1" width="1.7" height="9.2" fill="#df5683" opacity="0.88"/>
<rect x="493.50" y="317.4" width="1" height="9.9" fill="#df5683" opacity="0.75"/>
<rect x="493.15" y="319.0" width="1.7" height="7.8" fill="#df5683" opacity="0.88"/>
<rect x="494.86" y="318.3" width="1" height="11.5" fill="#4f6fe0" opacity="0.75"/>
<rect x="494.51" y="318.6" width="1.7" height="9.5" fill="#4f6fe0" opacity="0.88"/>
<rect x="496.22" y="317.9" width="1" height="16.3" fill="#df5683" opacity="0.75"/>
<rect x="495.87" y="319.5" width="1.7" height="12.9" fill="#df5683" opacity="0.88"/>
<rect x="497.57" y="314.2" width="1" height="22.7" fill="#4f6fe0" opacity="0.75"/>
<rect x="497.22" y="319.1" width="1.7" height="14.9" fill="#4f6fe0" opacity="0.88"/>
<rect x="498.93" y="311.5" width="1" height="26.2" fill="#4f6fe0" opacity="0.75"/>
<rect x="498.58" y="319.7" width="1.7" height="14.0" fill="#4f6fe0" opacity="0.88"/>
<rect x="500.28" y="324.3" width="1" height="13.4" fill="#df5683" opacity="0.75"/>
<rect x="499.93" y="324.4" width="1.7" height="8.2" fill="#df5683" opacity="0.88"/>
<rect x="501.64" y="327.8" width="1" height="10.8" fill="#4f6fe0" opacity="0.75"/>
<rect x="501.29" y="329.0" width="1.7" height="7.4" fill="#4f6fe0" opacity="0.88"/>
<rect x="503.00" y="329.8" width="1" height="11.4" fill="#4f6fe0" opacity="0.75"/>
<rect x="502.65" y="332.0" width="1.7" height="6.4" fill="#4f6fe0" opacity="0.88"/>
<rect x="504.35" y="317.7" width="1" height="20.3" fill="#4f6fe0" opacity="0.75"/>
<rect x="504.00" y="320.1" width="1.7" height="16.7" fill="#4f6fe0" opacity="0.88"/>
<rect x="505.71" y="315.8" width="1" height="12.6" fill="#df5683" opacity="0.75"/>
<rect x="505.36" y="318.2" width="1.7" height="8.2" fill="#df5683" opacity="0.88"/>
<rect x="507.07" y="313.4" width="1" height="9.8" fill="#df5683" opacity="0.75"/>
<rect x="506.72" y="316.3" width="1.7" height="5.8" fill="#df5683" opacity="0.88"/>
<rect x="508.42" y="308.8" width="1" height="17.0" fill="#4f6fe0" opacity="0.75"/>
<rect x="508.07" y="311.3" width="1.7" height="13.2" fill="#4f6fe0" opacity="0.88"/>
<rect x="509.78" y="306.7" width="1" height="13.1" fill="#4f6fe0" opacity="0.75"/>
<rect x="509.43" y="309.2" width="1.7" height="9.5" fill="#4f6fe0" opacity="0.88"/>
<rect x="511.13" y="314.3" width="1" height="10.7" fill="#df5683" opacity="0.75"/>
<rect x="510.78" y="315.1" width="1.7" height="8.6" fill="#df5683" opacity="0.88"/>
<rect x="512.49" y="319.3" width="1" height="12.4" fill="#4f6fe0" opacity="0.75"/>
<rect x="512.14" y="320.2" width="1.7" height="7.4" fill="#4f6fe0" opacity="0.88"/>
<rect x="513.85" y="312.7" width="1" height="20.3" fill="#df5683" opacity="0.75"/>
<rect x="513.50" y="314.7" width="1.7" height="12.3" fill="#df5683" opacity="0.88"/>
<rect x="515.20" y="317.4" width="1" height="14.3" fill="#4f6fe0" opacity="0.75"/>
<rect x="514.85" y="317.6" width="1.7" height="11.6" fill="#4f6fe0" opacity="0.88"/>
<rect x="516.56" y="318.0" width="1" height="12.2" fill="#df5683" opacity="0.75"/>
<rect x="516.21" y="320.4" width="1.7" height="7.8" fill="#df5683" opacity="0.88"/>
<rect x="517.92" y="322.5" width="1" height="12.3" fill="#df5683" opacity="0.75"/>
<rect x="517.57" y="325.4" width="1.7" height="7.5" fill="#df5683" opacity="0.88"/>
<rect x="519.27" y="329.5" width="1" height="11.1" fill="#4f6fe0" opacity="0.75"/>
<rect x="518.92" y="330.2" width="1.7" height="8.1" fill="#4f6fe0" opacity="0.88"/>
<rect x="520.63" y="332.6" width="1" height="20.8" fill="#df5683" opacity="0.75"/>
<rect x="520.28" y="335.0" width="1.7" height="9.8" fill="#df5683" opacity="0.88"/>
<rect x="521.98" y="330.9" width="1" height="14.0" fill="#4f6fe0" opacity="0.75"/>
<rect x="521.63" y="332.9" width="1.7" height="9.3" fill="#4f6fe0" opacity="0.88"/>
<rect x="523.34" y="327.8" width="1" height="11.5" fill="#4f6fe0" opacity="0.75"/>
<rect x="522.99" y="329.9" width="1.7" height="7.8" fill="#4f6fe0" opacity="0.88"/>
<rect x="524.70" y="327.1" width="1" height="11.1" fill="#4f6fe0" opacity="0.75"/>
<rect x="524.35" y="328.8" width="1.7" height="8.7" fill="#4f6fe0" opacity="0.88"/>
<rect x="526.05" y="328.8" width="1" height="8.1" fill="#4f6fe0" opacity="0.75"/>
<rect x="525.70" y="329.0" width="1.7" height="6.6" fill="#4f6fe0" opacity="0.88"/>
<rect x="527.41" y="328.6" width="1" height="11.9" fill="#4f6fe0" opacity="0.75"/>
<rect x="527.06" y="330.2" width="1.7" height="7.6" fill="#4f6fe0" opacity="0.88"/>
<rect x="528.77" y="332.5" width="1" height="15.9" fill="#df5683" opacity="0.75"/>
<rect x="528.42" y="333.9" width="1.7" height="12.8" fill="#df5683" opacity="0.88"/>
<rect x="530.12" y="340.9" width="1" height="25.6" fill="#df5683" opacity="0.75"/>
<rect x="529.77" y="342.0" width="1.7" height="23.2" fill="#df5683" opacity="0.88"/>
<rect x="531.48" y="360.6" width="1" height="11.6" fill="#df5683" opacity="0.75"/>
<rect x="531.13" y="362.5" width="1.7" height="9.6" fill="#df5683" opacity="0.88"/>
<rect x="532.83" y="346.0" width="1" height="26.1" fill="#4f6fe0" opacity="0.75"/>
<rect x="532.48" y="348.8" width="1.7" height="22.3" fill="#4f6fe0" opacity="0.88"/>
<rect x="534.19" y="349.6" width="1" height="12.9" fill="#df5683" opacity="0.75"/>
<rect x="533.84" y="352.3" width="1.7" height="10.1" fill="#df5683" opacity="0.88"/>
<rect x="535.55" y="346.5" width="1" height="16.5" fill="#4f6fe0" opacity="0.75"/>
<rect x="535.20" y="347.6" width="1.7" height="12.9" fill="#4f6fe0" opacity="0.88"/>
<rect x="536.90" y="341.7" width="1" height="14.2" fill="#4f6fe0" opacity="0.75"/>
<rect x="536.55" y="343.3" width="1.7" height="10.3" fill="#4f6fe0" opacity="0.88"/>
<rect x="538.26" y="338.7" width="1" height="11.8" fill="#df5683" opacity="0.75"/>
<rect x="537.91" y="340.4" width="1.7" height="7.6" fill="#df5683" opacity="0.88"/>
<rect x="539.62" y="330.4" width="1" height="15.8" fill="#df5683" opacity="0.75"/>
<rect x="539.27" y="334.4" width="1.7" height="10.9" fill="#df5683" opacity="0.88"/>
<rect x="540.97" y="325.9" width="1" height="16.7" fill="#4f6fe0" opacity="0.75"/>
<rect x="540.62" y="332.4" width="1.7" height="9.2" fill="#4f6fe0" opacity="0.88"/>
<rect x="542.33" y="334.6" width="1" height="20.2" fill="#df5683" opacity="0.75"/>
<rect x="541.98" y="336.3" width="1.7" height="16.5" fill="#df5683" opacity="0.88"/>
<rect x="543.68" y="345.0" width="1" height="28.8" fill="#df5683" opacity="0.75"/>
<rect x="543.33" y="347.2" width="1.7" height="14.1" fill="#df5683" opacity="0.88"/>
<rect x="545.04" y="353.4" width="1" height="17.3" fill="#4f6fe0" opacity="0.75"/>
<rect x="544.69" y="353.4" width="1.7" height="8.0" fill="#4f6fe0" opacity="0.88"/>
<rect x="546.40" y="348.0" width="1" height="14.7" fill="#df5683" opacity="0.75"/>
<rect x="546.05" y="350.4" width="1.7" height="9.6" fill="#df5683" opacity="0.88"/>
<rect x="547.75" y="351.7" width="1" height="14.1" fill="#df5683" opacity="0.75"/>
<rect x="547.40" y="353.8" width="1.7" height="10.2" fill="#df5683" opacity="0.88"/>
<rect x="549.11" y="357.7" width="1" height="11.4" fill="#df5683" opacity="0.75"/>
<rect x="548.76" y="359.1" width="1.7" height="7.7" fill="#df5683" opacity="0.88"/>
<rect x="550.47" y="359.6" width="1" height="11.7" fill="#4f6fe0" opacity="0.75"/>
<rect x="550.12" y="361.9" width="1.7" height="6.6" fill="#4f6fe0" opacity="0.88"/>
<rect x="551.82" y="320.7" width="1" height="53.6" fill="#4f6fe0" opacity="0.75"/>
<rect x="551.47" y="341.6" width="1.7" height="30.4" fill="#4f6fe0" opacity="0.88"/>
<rect x="553.18" y="300.4" width="1" height="45.2" fill="#4f6fe0" opacity="0.75"/>
<rect x="552.83" y="329.0" width="1.7" height="15.6" fill="#4f6fe0" opacity="0.88"/>
<rect x="554.53" y="332.5" width="1" height="16.4" fill="#df5683" opacity="0.75"/>
<rect x="554.18" y="335.3" width="1.7" height="13.4" fill="#df5683" opacity="0.88"/>
<rect x="555.89" y="344.4" width="1" height="25.0" fill="#df5683" opacity="0.75"/>
<rect x="555.54" y="344.8" width="1.7" height="15.2" fill="#df5683" opacity="0.88"/>
<rect x="557.25" y="356.0" width="1" height="27.2" fill="#df5683" opacity="0.75"/>
<rect x="556.90" y="356.0" width="1.7" height="12.8" fill="#df5683" opacity="0.88"/>
<rect x="558.60" y="356.9" width="1" height="17.0" fill="#df5683" opacity="0.75"/>
<rect x="558.25" y="359.8" width="1.7" height="12.7" fill="#df5683" opacity="0.88"/>
<rect x="559.96" y="337.7" width="1" height="33.0" fill="#4f6fe0" opacity="0.75"/>
<rect x="559.61" y="349.6" width="1.7" height="20.4" fill="#4f6fe0" opacity="0.88"/>
<rect x="561.32" y="347.3" width="1" height="17.9" fill="#df5683" opacity="0.75"/>
<rect x="560.97" y="350.5" width="1.7" height="12.7" fill="#df5683" opacity="0.88"/>
<rect x="562.67" y="323.0" width="1" height="40.8" fill="#4f6fe0" opacity="0.75"/>
<rect x="562.32" y="332.0" width="1.7" height="29.1" fill="#4f6fe0" opacity="0.88"/>
<rect x="564.03" y="303.5" width="1" height="29.5" fill="#4f6fe0" opacity="0.75"/>
<rect x="563.68" y="308.6" width="1.7" height="23.7" fill="#4f6fe0" opacity="0.88"/>
<rect x="565.38" y="300.3" width="1" height="25.2" fill="#df5683" opacity="0.75"/>
<rect x="565.03" y="305.2" width="1.7" height="5.2" fill="#df5683" opacity="0.88"/>
<rect x="566.74" y="295.6" width="1" height="21.3" fill="#4f6fe0" opacity="0.75"/>
<rect x="566.39" y="305.7" width="1.7" height="9.0" fill="#4f6fe0" opacity="0.88"/>
<rect x="568.10" y="311.8" width="1" height="21.9" fill="#df5683" opacity="0.75"/>
<rect x="567.75" y="312.6" width="1.7" height="18.2" fill="#df5683" opacity="0.88"/>
<rect x="569.45" y="320.8" width="1" height="20.2" fill="#df5683" opacity="0.75"/>
<rect x="569.10" y="320.8" width="1.7" height="11.5" fill="#df5683" opacity="0.88"/>
<rect x="570.81" y="295.0" width="1" height="31.5" fill="#4f6fe0" opacity="0.75"/>
<rect x="570.46" y="308.4" width="1.7" height="15.9" fill="#4f6fe0" opacity="0.88"/>
<rect x="572.17" y="287.8" width="1" height="25.8" fill="#4f6fe0" opacity="0.75"/>
<rect x="571.82" y="302.5" width="1.7" height="9.9" fill="#4f6fe0" opacity="0.88"/>
<rect x="573.52" y="300.5" width="1" height="14.1" fill="#df5683" opacity="0.75"/>
<rect x="573.17" y="301.0" width="1.7" height="11.2" fill="#df5683" opacity="0.88"/>
<rect x="574.88" y="304.6" width="1" height="20.9" fill="#df5683" opacity="0.75"/>
<rect x="574.53" y="305.9" width="1.7" height="13.9" fill="#df5683" opacity="0.88"/>
<rect x="576.23" y="288.7" width="1" height="25.2" fill="#4f6fe0" opacity="0.75"/>
<rect x="575.88" y="291.1" width="1.7" height="19.5" fill="#4f6fe0" opacity="0.88"/>
<rect x="577.59" y="274.7" width="1" height="21.0" fill="#4f6fe0" opacity="0.75"/>
<rect x="577.24" y="277.6" width="1.7" height="16.0" fill="#4f6fe0" opacity="0.88"/>
<rect x="578.95" y="272.5" width="1" height="12.7" fill="#4f6fe0" opacity="0.75"/>
<rect x="578.60" y="275.4" width="1.7" height="7.3" fill="#4f6fe0" opacity="0.88"/>
<rect x="580.30" y="273.2" width="1" height="14.6" fill="#df5683" opacity="0.75"/>
<rect x="579.95" y="275.9" width="1.7" height="8.4" fill="#df5683" opacity="0.88"/>
<rect x="581.66" y="272.0" width="1" height="22.0" fill="#4f6fe0" opacity="0.75"/>
<rect x="581.31" y="278.6" width="1.7" height="13.0" fill="#4f6fe0" opacity="0.88"/>
<rect x="583.02" y="283.7" width="1" height="14.1" fill="#df5683" opacity="0.75"/>
<rect x="582.67" y="286.5" width="1.7" height="10.0" fill="#df5683" opacity="0.88"/>
<rect x="584.37" y="268.1" width="1" height="30.5" fill="#4f6fe0" opacity="0.75"/>
<rect x="584.02" y="279.7" width="1.7" height="18.7" fill="#4f6fe0" opacity="0.88"/>
<rect x="585.73" y="263.5" width="1" height="22.6" fill="#4f6fe0" opacity="0.75"/>
<rect x="585.38" y="274.4" width="1.7" height="10.9" fill="#4f6fe0" opacity="0.88"/>
<rect x="587.08" y="268.8" width="1" height="16.4" fill="#4f6fe0" opacity="0.75"/>
<rect x="586.73" y="271.6" width="1.7" height="12.6" fill="#4f6fe0" opacity="0.88"/>
<rect x="588.44" y="273.3" width="1" height="19.4" fill="#df5683" opacity="0.75"/>
<rect x="588.09" y="275.7" width="1.7" height="16.4" fill="#df5683" opacity="0.88"/>
<rect x="589.80" y="287.4" width="1" height="23.6" fill="#df5683" opacity="0.75"/>
<rect x="589.45" y="288.1" width="1.7" height="21.0" fill="#df5683" opacity="0.88"/>
<rect x="591.15" y="304.4" width="1" height="14.2" fill="#df5683" opacity="0.75"/>
<rect x="590.80" y="305.2" width="1.7" height="11.1" fill="#df5683" opacity="0.88"/>
<rect x="592.51" y="292.3" width="1" height="19.8" fill="#4f6fe0" opacity="0.75"/>
<rect x="592.16" y="292.6" width="1.7" height="17.2" fill="#4f6fe0" opacity="0.88"/>
<rect x="593.87" y="273.2" width="1" height="23.6" fill="#4f6fe0" opacity="0.75"/>
<rect x="593.52" y="276.7" width="1.7" height="17.4" fill="#4f6fe0" opacity="0.88"/>
<rect x="595.22" y="258.8" width="1" height="23.6" fill="#4f6fe0" opacity="0.75"/>
<rect x="594.87" y="265.5" width="1.7" height="15.2" fill="#4f6fe0" opacity="0.88"/>
<rect x="596.58" y="263.8" width="1" height="11.1" fill="#df5683" opacity="0.75"/>
<rect x="596.23" y="265.9" width="1.7" height="7.9" fill="#df5683" opacity="0.88"/>
<rect x="597.93" y="262.9" width="1" height="8.4" fill="#df5683" opacity="0.75"/>
<rect x="597.58" y="263.4" width="1.7" height="7.8" fill="#df5683" opacity="0.88"/>
<rect x="599.29" y="262.3" width="1" height="12.1" fill="#4f6fe0" opacity="0.75"/>
<rect x="598.94" y="264.2" width="1.7" height="7.8" fill="#4f6fe0" opacity="0.88"/>
<rect x="600.65" y="255.6" width="1" height="15.5" fill="#4f6fe0" opacity="0.75"/>
<rect x="600.30" y="256.6" width="1.7" height="12.9" fill="#4f6fe0" opacity="0.88"/>
<rect x="602.00" y="250.1" width="1" height="18.6" fill="#4f6fe0" opacity="0.75"/>
<rect x="601.65" y="252.7" width="1.7" height="14.6" fill="#4f6fe0" opacity="0.88"/>
<rect x="603.36" y="256.5" width="1" height="15.8" fill="#4f6fe0" opacity="0.75"/>
<rect x="603.01" y="257.8" width="1.7" height="11.7" fill="#4f6fe0" opacity="0.88"/>
</g>
<!-- black line -->
<rect x="75" y="285.55" width="861.5" height="1.7" fill="#0a0a0a"/>
<!-- divergence lines -->
<line x1="81.5" y1="327" x2="87.5" y2="323.5" stroke="#c62828" stroke-width="1.8"/>
<line x1="410.7" y1="223.6" x2="419.8" y2="157" stroke="#c62828" stroke-width="2"/>
<line x1="431.4" y1="178.9" x2="436.6" y2="176.5" stroke="#8e2430" stroke-width="1.8"/>
<line x1="208.5" y1="232.4" x2="214" y2="232" stroke="#c62828" stroke-width="1.8"/>
<line x1="581.8" y1="271.3" x2="586.1" y2="258.8" stroke="#c62828" stroke-width="2"/>
<line x1="90.8" y1="357" x2="94.2" y2="367" stroke="#2e9a3e" stroke-width="2"/>
<line x1="130.5" y1="445" x2="138.5" y2="478" stroke="#2e9a3e" stroke-width="2"/>
<!-- forecasts -->
<polyline points="593.9,278.5 611.6,209.1 619.9,245.5 644.2,143.8 653.8,173.2 680.9,95.3 723.1,193.8" fill="none" stroke="#1c957a" stroke-width="2.1" stroke-linejoin="round" stroke-linecap="round"/>
<polyline points="710.9,189.3 723.1,193.8 728,181.7" fill="none" stroke="#1c957a" stroke-width="2.1" stroke-linecap="round"/>
<polyline points="596.7,283.2 608.8,244.4 619,286.3 633.6,268.3 660.6,402.5" fill="none" stroke="#e0344e" stroke-width="2.2" stroke-linejoin="round" stroke-linecap="round"/>
<polyline points="649.1,395.1 660.6,402.5 668.4,391.5" fill="none" stroke="#e0344e" stroke-width="2.2" stroke-linecap="round"/>
<rect x="76" y="305" width="23" height="13.5" rx="2.5" fill="#f3453f"/><path d="M83 318.0 L87 322.5 L91 318.0 Z" fill="#f3453f"/><text x="87.5" y="314.25" font-size="7" fill="#ffffff" fill-opacity="0.8" text-anchor="middle" font-family="Liberation Sans, sans-serif">-RD</text>
<rect x="202.5" y="214.5" width="23" height="13.5" rx="2.5" fill="#f3453f"/><path d="M210 227.5 L214 232 L218 227.5 Z" fill="#f3453f"/><text x="214.0" y="223.75" font-size="7" fill="#ffffff" fill-opacity="0.8" text-anchor="middle" font-family="Liberation Sans, sans-serif">-RD</text>
<rect x="408" y="140.5" width="23" height="12.5" rx="2.5" fill="#f3453f"/><path d="M415.3 152.5 L419.3 157.5 L423.3 152.5 Z" fill="#f3453f"/><text x="419.5" y="149.25" font-size="7" fill="#ffffff" fill-opacity="0.8" text-anchor="middle" font-family="Liberation Sans, sans-serif">-RD</text>
<rect x="432" y="142" width="23" height="13.3" rx="2.5" fill="#f3453f"/><path d="M439.7 154.8 L443.7 158.8 L447.7 154.8 Z" fill="#f3453f"/><text x="443.5" y="151.15" font-size="7" fill="#ffffff" fill-opacity="0.8" text-anchor="middle" font-family="Liberation Sans, sans-serif">-RD</text>
<rect x="424.5" y="160" width="22.5" height="12.6" rx="2.5" fill="#f3453f"/><path d="M431 172.1 L435 177.3 L439 172.1 Z" fill="#f3453f"/><text x="435.75" y="168.8" font-size="7" fill="#ffffff" fill-opacity="0.8" text-anchor="middle" font-family="Liberation Sans, sans-serif">-RD</text>
<rect x="574.2" y="240.7" width="23" height="13.3" rx="2.5" fill="#f3453f"/><path d="M582 253.5 L586 258.8 L590 253.5 Z" fill="#f3453f"/><text x="585.7" y="249.85" font-size="7" fill="#ffffff" fill-opacity="0.8" text-anchor="middle" font-family="Liberation Sans, sans-serif">-RD</text>
<rect x="83" y="371.5" width="24.5" height="13.5" rx="2.5" fill="#4bab4f"/><path d="M90 372.0 L94 368 L98 372.0 Z" fill="#4bab4f"/><text x="95.25" y="380.75" font-size="7" fill="#ffffff" fill-opacity="0.8" text-anchor="middle" font-family="Liberation Sans, sans-serif">+RD</text>
<rect x="126.5" y="481.5" width="24.5" height="13.5" rx="2.5" fill="#4bab4f"/><path d="M134 482.0 L138 477.5 L142 482.0 Z" fill="#4bab4f"/><text x="138.75" y="490.75" font-size="7" fill="#ffffff" fill-opacity="0.8" text-anchor="middle" font-family="Liberation Sans, sans-serif">+RD</text>
<!-- CVD -->
<rect x="75.80" y="633.5" width="0.95" height="0.5" fill="#cde2c8"/>
<rect x="77.16" y="633.4" width="0.95" height="0.6" fill="#cde2c8"/>
<rect x="78.51" y="633.4" width="0.95" height="0.6" fill="#cde2c8"/>
<rect x="79.87" y="633.3" width="0.95" height="0.7" fill="#cde2c8"/>
<rect x="81.23" y="633.3" width="0.95" height="0.7" fill="#cde2c8"/>
<rect x="82.58" y="633.2" width="0.95" height="0.8" fill="#cde2c8"/>
<rect x="83.94" y="633.2" width="0.95" height="0.8" fill="#cde2c8"/>
<rect x="85.29" y="633.1" width="0.95" height="0.9" fill="#cde2c8"/>
<rect x="86.65" y="633.1" width="0.95" height="0.9" fill="#cde2c8"/>
<rect x="88.01" y="633.1" width="0.95" height="0.9" fill="#cde2c8"/>
<rect x="89.36" y="633.0" width="0.95" height="1.0" fill="#cde2c8"/>
<rect x="90.72" y="633.0" width="0.95" height="1.0" fill="#cde2c8"/>
<rect x="92.08" y="632.9" width="0.95" height="1.1" fill="#cde2c8"/>
<rect x="93.43" y="632.9" width="0.95" height="1.1" fill="#cde2c8"/>
<rect x="94.79" y="632.8" width="0.95" height="1.2" fill="#cde2c8"/>
<rect x="96.14" y="632.8" width="0.95" height="1.2" fill="#cde2c8"/>
<rect x="97.50" y="632.7" width="0.95" height="1.3" fill="#cde2c8"/>
<rect x="98.86" y="632.7" width="0.95" height="1.3" fill="#cde2c8"/>
<rect x="100.21" y="632.6" width="0.95" height="1.4" fill="#cde2c8"/>
<rect x="101.57" y="632.6" width="0.95" height="1.4" fill="#cde2c8"/>
<rect x="102.93" y="632.5" width="0.95" height="1.5" fill="#cde2c8"/>
<rect x="104.28" y="633.3" width="0.95" height="0.7" fill="#cde2c8"/>
<rect x="105.64" y="634.0" width="0.95" height="1.2" fill="#f2d0cc"/>
<rect x="106.99" y="634.0" width="0.95" height="3.5" fill="#f2d0cc"/>
<rect x="108.35" y="634.0" width="0.95" height="4.8" fill="#f2d0cc"/>
<rect x="109.71" y="634.0" width="0.95" height="6.3" fill="#f2d0cc"/>
<rect x="111.06" y="634.0" width="0.95" height="7.8" fill="#f2d0cc"/>
<rect x="112.42" y="634.0" width="0.95" height="8.5" fill="#f2d0cc"/>
<rect x="113.78" y="634.0" width="0.95" height="8.2" fill="#f2d0cc"/>
<rect x="115.13" y="634.0" width="0.95" height="8.2" fill="#f2d0cc"/>
<rect x="116.49" y="634.0" width="0.95" height="8.6" fill="#f2d0cc"/>
<rect x="117.84" y="634.0" width="0.95" height="8.8" fill="#f2d0cc"/>
<rect x="119.20" y="634.0" width="0.95" height="9.2" fill="#f2d0cc"/>
<rect x="120.56" y="634.0" width="0.95" height="9.6" fill="#f2d0cc"/>
<rect x="121.91" y="634.0" width="0.95" height="11.2" fill="#f2d0cc"/>
<rect x="123.27" y="634.0" width="0.95" height="12.6" fill="#f2d0cc"/>
<rect x="124.63" y="634.0" width="0.95" height="13.2" fill="#f2d0cc"/>
<rect x="125.98" y="634.0" width="0.95" height="15.0" fill="#f2d0cc"/>
<rect x="127.34" y="634.0" width="0.95" height="15.9" fill="#f2d0cc"/>
<rect x="128.69" y="634.0" width="0.95" height="15.5" fill="#f2d0cc"/>
<rect x="130.05" y="634.0" width="0.95" height="17.3" fill="#f2d0cc"/>
<rect x="131.41" y="634.0" width="0.95" height="17.4" fill="#f2d0cc"/>
<rect x="132.76" y="634.0" width="0.95" height="17.1" fill="#f2d0cc"/>
<rect x="134.12" y="634.0" width="0.95" height="18.7" fill="#f2d0cc"/>
<rect x="135.48" y="634.0" width="0.95" height="17.6" fill="#f2d0cc"/>
<rect x="136.83" y="634.0" width="0.95" height="18.3" fill="#f2d0cc"/>
<rect x="138.19" y="634.0" width="0.95" height="18.6" fill="#f2d0cc"/>
<rect x="139.54" y="634.0" width="0.95" height="19.3" fill="#f2d0cc"/>
<rect x="140.90" y="634.0" width="0.95" height="18.7" fill="#f2d0cc"/>
<rect x="142.26" y="634.0" width="0.95" height="18.2" fill="#f2d0cc"/>
<rect x="143.61" y="634.0" width="0.95" height="18.2" fill="#f2d0cc"/>
<rect x="144.97" y="634.0" width="0.95" height="17.6" fill="#f2d0cc"/>
<rect x="146.32" y="634.0" width="0.95" height="19.0" fill="#f2d0cc"/>
<rect x="147.68" y="634.0" width="0.95" height="19.0" fill="#f2d0cc"/>
<rect x="149.04" y="634.0" width="0.95" height="17.5" fill="#f2d0cc"/>
<rect x="150.39" y="634.0" width="0.95" height="15.5" fill="#f2d0cc"/>
<rect x="151.75" y="634.0" width="0.95" height="12.8" fill="#f2d0cc"/>
<rect x="153.11" y="634.0" width="0.95" height="7.5" fill="#f2d0cc"/>
<rect x="154.46" y="634.0" width="0.95" height="2.2" fill="#f2d0cc"/>
<rect x="155.82" y="610.8" width="0.95" height="23.2" fill="#cde2c8"/>
<rect x="157.17" y="603.1" width="0.95" height="30.9" fill="#cde2c8"/>
<rect x="158.53" y="604.1" width="0.95" height="29.9" fill="#cde2c8"/>
<rect x="159.89" y="607.9" width="0.95" height="26.1" fill="#cde2c8"/>
<rect x="161.24" y="605.4" width="0.95" height="28.6" fill="#cde2c8"/>
<rect x="162.60" y="605.1" width="0.95" height="28.9" fill="#cde2c8"/>
<rect x="163.96" y="604.8" width="0.95" height="29.2" fill="#cde2c8"/>
<rect x="165.31" y="603.9" width="0.95" height="30.1" fill="#cde2c8"/>
<rect x="166.67" y="607.0" width="0.95" height="27.0" fill="#cde2c8"/>
<rect x="168.02" y="606.2" width="0.95" height="27.8" fill="#cde2c8"/>
<rect x="169.38" y="602.1" width="0.95" height="31.9" fill="#cde2c8"/>
<rect x="170.74" y="600.2" width="0.95" height="33.8" fill="#cde2c8"/>
<rect x="172.09" y="604.5" width="0.95" height="29.5" fill="#cde2c8"/>
<rect x="173.45" y="606.1" width="0.95" height="27.9" fill="#cde2c8"/>
<rect x="174.81" y="605.8" width="0.95" height="28.2" fill="#cde2c8"/>
<rect x="176.16" y="605.8" width="0.95" height="28.2" fill="#cde2c8"/>
<rect x="177.52" y="608.1" width="0.95" height="25.9" fill="#cde2c8"/>
<rect x="178.87" y="608.5" width="0.95" height="25.5" fill="#cde2c8"/>
<rect x="180.23" y="609.6" width="0.95" height="24.4" fill="#cde2c8"/>
<rect x="181.59" y="611.0" width="0.95" height="23.0" fill="#cde2c8"/>
<rect x="182.94" y="611.5" width="0.95" height="22.5" fill="#cde2c8"/>
<rect x="184.30" y="613.5" width="0.95" height="20.5" fill="#cde2c8"/>
<rect x="185.66" y="614.7" width="0.95" height="19.3" fill="#cde2c8"/>
<rect x="187.01" y="616.9" width="0.95" height="17.1" fill="#cde2c8"/>
<rect x="188.37" y="592.6" width="0.95" height="41.4" fill="#cde2c8"/>
<rect x="189.72" y="581.6" width="0.95" height="52.4" fill="#cde2c8"/>
<rect x="191.08" y="577.8" width="0.95" height="56.2" fill="#cde2c8"/>
<rect x="192.44" y="579.7" width="0.95" height="54.3" fill="#cde2c8"/>
<rect x="193.79" y="580.6" width="0.95" height="53.4" fill="#cde2c8"/>
<rect x="195.15" y="577.8" width="0.95" height="56.2" fill="#cde2c8"/>
<rect x="196.51" y="579.6" width="0.95" height="54.4" fill="#cde2c8"/>
<rect x="197.86" y="577.8" width="0.95" height="56.2" fill="#cde2c8"/>
<rect x="199.22" y="577.8" width="0.95" height="56.2" fill="#cde2c8"/>
<rect x="200.57" y="577.8" width="0.95" height="56.2" fill="#cde2c8"/>
<rect x="201.93" y="580.0" width="0.95" height="54.0" fill="#cde2c8"/>
<rect x="203.29" y="578.3" width="0.95" height="55.7" fill="#cde2c8"/>
<rect x="204.64" y="580.3" width="0.95" height="53.7" fill="#cde2c8"/>
<rect x="206.00" y="577.8" width="0.95" height="56.2" fill="#cde2c8"/>
<rect x="207.36" y="577.8" width="0.95" height="56.2" fill="#cde2c8"/>
<rect x="208.71" y="577.8" width="0.95" height="56.2" fill="#cde2c8"/>
<rect x="210.07" y="578.3" width="0.95" height="55.7" fill="#cde2c8"/>
<rect x="211.42" y="578.9" width="0.95" height="55.1" fill="#cde2c8"/>
<rect x="212.78" y="577.8" width="0.95" height="56.2" fill="#cde2c8"/>
<rect x="214.14" y="578.1" width="0.95" height="55.9" fill="#cde2c8"/>
<rect x="215.49" y="577.8" width="0.95" height="56.2" fill="#cde2c8"/>
<rect x="216.85" y="580.9" width="0.95" height="53.1" fill="#cde2c8"/>
<rect x="218.21" y="581.3" width="0.95" height="52.7" fill="#cde2c8"/>
<rect x="219.56" y="598.3" width="0.95" height="35.7" fill="#cde2c8"/>
<rect x="220.92" y="623.5" width="0.95" height="10.5" fill="#cde2c8"/>
<rect x="222.27" y="634.0" width="0.95" height="2.0" fill="#f2d0cc"/>
<rect x="223.63" y="634.0" width="0.95" height="13.6" fill="#f2d0cc"/>
<rect x="224.99" y="634.0" width="0.95" height="8.9" fill="#f2d0cc"/>
<rect x="226.34" y="634.0" width="0.95" height="4.6" fill="#f2d0cc"/>
<rect x="227.70" y="634.0" width="0.95" height="4.0" fill="#f2d0cc"/>
<rect x="229.06" y="634.0" width="0.95" height="4.0" fill="#f2d0cc"/>
<rect x="230.41" y="634.0" width="0.95" height="4.0" fill="#f2d0cc"/>
<rect x="231.77" y="634.0" width="0.95" height="4.1" fill="#f2d0cc"/>
<rect x="233.12" y="634.0" width="0.95" height="4.4" fill="#f2d0cc"/>
<rect x="234.48" y="634.0" width="0.95" height="4.7" fill="#f2d0cc"/>
<rect x="235.84" y="634.0" width="0.95" height="4.7" fill="#f2d0cc"/>
<rect x="237.19" y="634.0" width="0.95" height="3.3" fill="#f2d0cc"/>
<rect x="238.55" y="634.0" width="0.95" height="4.5" fill="#f2d0cc"/>
<rect x="239.91" y="634.0" width="0.95" height="6.5" fill="#f2d0cc"/>
<rect x="241.26" y="634.0" width="0.95" height="7.1" fill="#f2d0cc"/>
<rect x="242.62" y="634.0" width="0.95" height="8.2" fill="#f2d0cc"/>
<rect x="243.97" y="634.0" width="0.95" height="9.0" fill="#f2d0cc"/>
<rect x="245.33" y="634.0" width="0.95" height="10.1" fill="#f2d0cc"/>
<rect x="246.69" y="634.0" width="0.95" height="11.8" fill="#f2d0cc"/>
<rect x="248.04" y="634.0" width="0.95" height="12.1" fill="#f2d0cc"/>
<rect x="249.40" y="634.0" width="0.95" height="12.8" fill="#f2d0cc"/>
<rect x="250.76" y="634.0" width="0.95" height="13.2" fill="#f2d0cc"/>
<rect x="252.11" y="634.0" width="0.95" height="9.2" fill="#f2d0cc"/>
<rect x="253.47" y="634.0" width="0.95" height="15.4" fill="#f2d0cc"/>
<rect x="254.82" y="634.0" width="0.95" height="30.1" fill="#f2d0cc"/>
<rect x="256.18" y="634.0" width="0.95" height="44.3" fill="#f2d0cc"/>
<rect x="257.54" y="634.0" width="0.95" height="44.9" fill="#f2d0cc"/>
<rect x="258.89" y="634.0" width="0.95" height="46.7" fill="#f2d0cc"/>
<rect x="260.25" y="634.0" width="0.95" height="44.5" fill="#f2d0cc"/>
<rect x="261.61" y="634.0" width="0.95" height="42.1" fill="#f2d0cc"/>
<rect x="262.96" y="634.0" width="0.95" height="42.8" fill="#f2d0cc"/>
<rect x="264.32" y="634.0" width="0.95" height="41.5" fill="#f2d0cc"/>
<rect x="265.67" y="634.0" width="0.95" height="41.0" fill="#f2d0cc"/>
<rect x="267.03" y="634.0" width="0.95" height="40.7" fill="#f2d0cc"/>
<rect x="268.39" y="634.0" width="0.95" height="41.4" fill="#f2d0cc"/>
<rect x="269.74" y="634.0" width="0.95" height="44.1" fill="#f2d0cc"/>
<rect x="271.10" y="634.0" width="0.95" height="44.1" fill="#f2d0cc"/>
<rect x="272.46" y="634.0" width="0.95" height="43.6" fill="#f2d0cc"/>
<rect x="273.81" y="634.0" width="0.95" height="39.9" fill="#f2d0cc"/>
<rect x="275.17" y="634.0" width="0.95" height="40.5" fill="#f2d0cc"/>
<rect x="276.52" y="634.0" width="0.95" height="42.8" fill="#f2d0cc"/>
<rect x="277.88" y="634.0" width="0.95" height="38.9" fill="#f2d0cc"/>
<rect x="279.24" y="634.0" width="0.95" height="40.6" fill="#f2d0cc"/>
<rect x="280.59" y="634.0" width="0.95" height="37.9" fill="#f2d0cc"/>
<rect x="281.95" y="634.0" width="0.95" height="36.2" fill="#f2d0cc"/>
<rect x="283.31" y="634.0" width="0.95" height="21.8" fill="#f2d0cc"/>
<rect x="284.66" y="634.0" width="0.95" height="12.2" fill="#f2d0cc"/>
<rect x="286.02" y="634.0" width="0.95" height="10.3" fill="#f2d0cc"/>
<rect x="287.37" y="634.0" width="0.95" height="8.8" fill="#f2d0cc"/>
<rect x="288.73" y="634.0" width="0.95" height="6.6" fill="#f2d0cc"/>
<rect x="290.09" y="634.0" width="0.95" height="4.7" fill="#f2d0cc"/>
<rect x="291.44" y="634.0" width="0.95" height="2.2" fill="#f2d0cc"/>
<rect x="294.16" y="633.2" width="0.95" height="0.8" fill="#cde2c8"/>
<rect x="295.51" y="632.5" width="0.95" height="1.5" fill="#cde2c8"/>
<rect x="296.87" y="631.3" width="0.95" height="2.7" fill="#cde2c8"/>
<rect x="298.22" y="628.6" width="0.95" height="5.4" fill="#cde2c8"/>
<rect x="299.58" y="625.6" width="0.95" height="8.4" fill="#cde2c8"/>
<rect x="300.94" y="621.7" width="0.95" height="12.3" fill="#cde2c8"/>
<rect x="302.29" y="620.2" width="0.95" height="13.8" fill="#cde2c8"/>
<rect x="303.65" y="619.4" width="0.95" height="14.6" fill="#cde2c8"/>
<rect x="305.01" y="618.5" width="0.95" height="15.5" fill="#cde2c8"/>
<rect x="306.36" y="619.8" width="0.95" height="14.2" fill="#cde2c8"/>
<rect x="307.72" y="619.5" width="0.95" height="14.5" fill="#cde2c8"/>
<rect x="309.07" y="620.4" width="0.95" height="13.6" fill="#cde2c8"/>
<rect x="310.43" y="620.2" width="0.95" height="13.8" fill="#cde2c8"/>
<rect x="311.79" y="619.0" width="0.95" height="15.0" fill="#cde2c8"/>
<rect x="313.14" y="618.8" width="0.95" height="15.2" fill="#cde2c8"/>
<rect x="314.50" y="620.4" width="0.95" height="13.6" fill="#cde2c8"/>
<rect x="315.86" y="621.9" width="0.95" height="12.1" fill="#cde2c8"/>
<rect x="317.21" y="623.5" width="0.95" height="10.5" fill="#cde2c8"/>
<rect x="318.57" y="625.3" width="0.95" height="8.7" fill="#cde2c8"/>
<rect x="319.92" y="634.0" width="0.95" height="2.4" fill="#f2d0cc"/>
<rect x="321.28" y="634.0" width="0.95" height="8.3" fill="#f2d0cc"/>
<rect x="322.64" y="634.0" width="0.95" height="12.0" fill="#f2d0cc"/>
<rect x="323.99" y="634.0" width="0.95" height="14.5" fill="#f2d0cc"/>
<rect x="325.35" y="634.0" width="0.95" height="17.9" fill="#f2d0cc"/>
<rect x="326.71" y="634.0" width="0.95" height="20.4" fill="#f2d0cc"/>
<rect x="328.06" y="634.0" width="0.95" height="22.9" fill="#f2d0cc"/>
<rect x="329.42" y="634.0" width="0.95" height="24.1" fill="#f2d0cc"/>
<rect x="330.77" y="634.0" width="0.95" height="24.5" fill="#f2d0cc"/>
<rect x="332.13" y="634.0" width="0.95" height="24.7" fill="#f2d0cc"/>
<rect x="333.49" y="634.0" width="0.95" height="25.9" fill="#f2d0cc"/>
<rect x="334.84" y="634.0" width="0.95" height="24.7" fill="#f2d0cc"/>
<rect x="336.20" y="634.0" width="0.95" height="25.0" fill="#f2d0cc"/>
<rect x="337.56" y="634.0" width="0.95" height="22.9" fill="#f2d0cc"/>
<rect x="338.91" y="634.0" width="0.95" height="24.2" fill="#f2d0cc"/>
<rect x="340.27" y="634.0" width="0.95" height="22.5" fill="#f2d0cc"/>
<rect x="341.62" y="634.0" width="0.95" height="23.1" fill="#f2d0cc"/>
<rect x="342.98" y="634.0" width="0.95" height="22.3" fill="#f2d0cc"/>
<rect x="344.34" y="634.0" width="0.95" height="20.2" fill="#f2d0cc"/>
<rect x="345.69" y="634.0" width="0.95" height="17.8" fill="#f2d0cc"/>
<rect x="347.05" y="634.0" width="0.95" height="17.1" fill="#f2d0cc"/>
<rect x="348.41" y="634.0" width="0.95" height="14.2" fill="#f2d0cc"/>
<rect x="349.76" y="634.0" width="0.95" height="8.1" fill="#f2d0cc"/>
<rect x="351.12" y="631.9" width="0.95" height="2.1" fill="#cde2c8"/>
<rect x="352.47" y="609.9" width="0.95" height="24.1" fill="#cde2c8"/>
<rect x="353.83" y="603.7" width="0.95" height="30.3" fill="#cde2c8"/>
<rect x="355.19" y="600.3" width="0.95" height="33.7" fill="#cde2c8"/>
<rect x="356.54" y="600.4" width="0.95" height="33.6" fill="#cde2c8"/>
<rect x="357.90" y="600.9" width="0.95" height="33.1" fill="#cde2c8"/>
<rect x="359.26" y="599.9" width="0.95" height="34.1" fill="#cde2c8"/>
<rect x="360.61" y="598.9" width="0.95" height="35.1" fill="#cde2c8"/>
<rect x="361.97" y="600.7" width="0.95" height="33.3" fill="#cde2c8"/>
<rect x="363.32" y="598.6" width="0.95" height="35.4" fill="#cde2c8"/>
<rect x="364.68" y="598.7" width="0.95" height="35.3" fill="#cde2c8"/>
<rect x="366.04" y="598.2" width="0.95" height="35.8" fill="#cde2c8"/>
<rect x="367.39" y="599.4" width="0.95" height="34.6" fill="#cde2c8"/>
<rect x="368.75" y="598.2" width="0.95" height="35.8" fill="#cde2c8"/>
<rect x="370.11" y="598.9" width="0.95" height="35.1" fill="#cde2c8"/>
<rect x="371.46" y="599.7" width="0.95" height="34.3" fill="#cde2c8"/>
<rect x="372.82" y="602.9" width="0.95" height="31.1" fill="#cde2c8"/>
<rect x="374.17" y="603.0" width="0.95" height="31.0" fill="#cde2c8"/>
<rect x="375.53" y="605.4" width="0.95" height="28.6" fill="#cde2c8"/>
<rect x="376.89" y="607.8" width="0.95" height="26.2" fill="#cde2c8"/>
<rect x="378.24" y="615.2" width="0.95" height="18.8" fill="#cde2c8"/>
<rect x="379.60" y="623.5" width="0.95" height="10.5" fill="#cde2c8"/>
<rect x="380.96" y="634.0" width="0.95" height="9.8" fill="#f2d0cc"/>
<rect x="382.31" y="634.0" width="0.95" height="13.4" fill="#f2d0cc"/>
<rect x="383.67" y="634.0" width="0.95" height="17.1" fill="#f2d0cc"/>
<rect x="385.02" y="634.0" width="0.95" height="12.7" fill="#f2d0cc"/>
<rect x="386.38" y="634.0" width="0.95" height="1.4" fill="#f2d0cc"/>
<rect x="387.74" y="631.1" width="0.95" height="2.9" fill="#cde2c8"/>
<rect x="389.09" y="631.8" width="0.95" height="2.2" fill="#cde2c8"/>
<rect x="390.45" y="631.4" width="0.95" height="2.6" fill="#cde2c8"/>
<rect x="391.81" y="630.5" width="0.95" height="3.5" fill="#cde2c8"/>
<rect x="393.16" y="630.4" width="0.95" height="3.6" fill="#cde2c8"/>
<rect x="394.52" y="631.3" width="0.95" height="2.7" fill="#cde2c8"/>
<rect x="395.87" y="631.8" width="0.95" height="2.2" fill="#cde2c8"/>
<rect x="397.23" y="631.1" width="0.95" height="2.9" fill="#cde2c8"/>
<rect x="398.59" y="629.4" width="0.95" height="4.6" fill="#cde2c8"/>
<rect x="399.94" y="627.1" width="0.95" height="6.9" fill="#cde2c8"/>
<rect x="401.30" y="624.9" width="0.95" height="9.1" fill="#cde2c8"/>
<rect x="402.66" y="621.3" width="0.95" height="12.7" fill="#cde2c8"/>
<rect x="404.01" y="620.9" width="0.95" height="13.1" fill="#cde2c8"/>
<rect x="405.37" y="619.6" width="0.95" height="14.4" fill="#cde2c8"/>
<rect x="406.72" y="614.4" width="0.95" height="19.6" fill="#cde2c8"/>
<rect x="408.08" y="609.0" width="0.95" height="25.0" fill="#cde2c8"/>
<rect x="409.44" y="603.3" width="0.95" height="30.7" fill="#cde2c8"/>
<rect x="410.79" y="606.2" width="0.95" height="27.8" fill="#cde2c8"/>
<rect x="412.15" y="606.9" width="0.95" height="27.1" fill="#cde2c8"/>
<rect x="413.51" y="606.8" width="0.95" height="27.2" fill="#cde2c8"/>
<rect x="414.86" y="609.9" width="0.95" height="24.1" fill="#cde2c8"/>
<rect x="416.22" y="611.8" width="0.95" height="22.2" fill="#cde2c8"/>
<rect x="417.57" y="611.8" width="0.95" height="22.2" fill="#cde2c8"/>
<rect x="418.93" y="611.1" width="0.95" height="22.9" fill="#cde2c8"/>
<rect x="420.29" y="610.4" width="0.95" height="23.6" fill="#cde2c8"/>
<rect x="421.64" y="608.9" width="0.95" height="25.1" fill="#cde2c8"/>
<rect x="423.00" y="609.4" width="0.95" height="24.6" fill="#cde2c8"/>
<rect x="424.36" y="607.9" width="0.95" height="26.1" fill="#cde2c8"/>
<rect x="425.71" y="609.7" width="0.95" height="24.3" fill="#cde2c8"/>
<rect x="427.07" y="612.6" width="0.95" height="21.4" fill="#cde2c8"/>
<rect x="428.42" y="612.4" width="0.95" height="21.6" fill="#cde2c8"/>
<rect x="429.78" y="610.9" width="0.95" height="23.1" fill="#cde2c8"/>
<rect x="431.14" y="610.2" width="0.95" height="23.8" fill="#cde2c8"/>
<rect x="432.49" y="611.5" width="0.95" height="22.5" fill="#cde2c8"/>
<rect x="433.85" y="613.1" width="0.95" height="20.9" fill="#cde2c8"/>
<rect x="435.21" y="613.9" width="0.95" height="20.1" fill="#cde2c8"/>
<rect x="436.56" y="615.7" width="0.95" height="18.3" fill="#cde2c8"/>
<rect x="437.92" y="616.2" width="0.95" height="17.8" fill="#cde2c8"/>
<rect x="439.27" y="617.2" width="0.95" height="16.8" fill="#cde2c8"/>
<rect x="440.63" y="618.8" width="0.95" height="15.2" fill="#cde2c8"/>
<rect x="441.99" y="618.5" width="0.95" height="15.5" fill="#cde2c8"/>
<rect x="443.34" y="618.6" width="0.95" height="15.4" fill="#cde2c8"/>
<rect x="444.70" y="620.3" width="0.95" height="13.7" fill="#cde2c8"/>
<rect x="446.06" y="620.3" width="0.95" height="13.7" fill="#cde2c8"/>
<rect x="447.41" y="625.4" width="0.95" height="8.6" fill="#cde2c8"/>
<rect x="448.77" y="634.0" width="0.95" height="2.7" fill="#f2d0cc"/>
<rect x="450.12" y="634.0" width="0.95" height="7.7" fill="#f2d0cc"/>
<rect x="451.48" y="634.0" width="0.95" height="3.6" fill="#f2d0cc"/>
<rect x="452.84" y="634.0" width="0.95" height="4.5" fill="#f2d0cc"/>
<rect x="454.19" y="634.0" width="0.95" height="2.5" fill="#f2d0cc"/>
<rect x="455.55" y="634.0" width="0.95" height="1.0" fill="#f2d0cc"/>
<rect x="458.26" y="633.1" width="0.95" height="0.9" fill="#cde2c8"/>
<rect x="459.62" y="632.8" width="0.95" height="1.2" fill="#cde2c8"/>
<rect x="460.97" y="632.5" width="0.95" height="1.5" fill="#cde2c8"/>
<rect x="462.33" y="632.2" width="0.95" height="1.8" fill="#cde2c8"/>
<rect x="463.69" y="632.0" width="0.95" height="2.0" fill="#cde2c8"/>
<rect x="465.04" y="632.1" width="0.95" height="1.9" fill="#cde2c8"/>
<rect x="466.40" y="632.2" width="0.95" height="1.8" fill="#cde2c8"/>
<rect x="467.76" y="632.4" width="0.95" height="1.6" fill="#cde2c8"/>
<rect x="469.11" y="632.5" width="0.95" height="1.5" fill="#cde2c8"/>
<rect x="470.47" y="632.6" width="0.95" height="1.4" fill="#cde2c8"/>
<rect x="471.82" y="632.7" width="0.95" height="1.3" fill="#cde2c8"/>
<rect x="473.18" y="632.8" width="0.95" height="1.2" fill="#cde2c8"/>
<rect x="474.54" y="632.9" width="0.95" height="1.1" fill="#cde2c8"/>
<rect x="475.89" y="633.2" width="0.95" height="0.8" fill="#cde2c8"/>
<rect x="478.61" y="634.0" width="0.95" height="7.2" fill="#f2d0cc"/>
<rect x="479.96" y="634.0" width="0.95" height="18.1" fill="#f2d0cc"/>
<rect x="481.32" y="634.0" width="0.95" height="24.7" fill="#f2d0cc"/>
<rect x="482.67" y="634.0" width="0.95" height="28.9" fill="#f2d0cc"/>
<rect x="484.03" y="634.0" width="0.95" height="34.1" fill="#f2d0cc"/>
<rect x="485.39" y="634.0" width="0.95" height="35.4" fill="#f2d0cc"/>
<rect x="486.74" y="634.0" width="0.95" height="35.5" fill="#f2d0cc"/>
<rect x="488.10" y="634.0" width="0.95" height="35.4" fill="#f2d0cc"/>
<rect x="489.46" y="634.0" width="0.95" height="36.0" fill="#f2d0cc"/>
<rect x="490.81" y="634.0" width="0.95" height="36.6" fill="#f2d0cc"/>
<rect x="492.17" y="634.0" width="0.95" height="38.8" fill="#f2d0cc"/>
<rect x="493.52" y="634.0" width="0.95" height="38.1" fill="#f2d0cc"/>
<rect x="494.88" y="634.0" width="0.95" height="38.5" fill="#f2d0cc"/>
<rect x="496.24" y="634.0" width="0.95" height="38.2" fill="#f2d0cc"/>
<rect x="497.59" y="634.0" width="0.95" height="38.3" fill="#f2d0cc"/>
<rect x="498.95" y="634.0" width="0.95" height="36.0" fill="#f2d0cc"/>
<rect x="500.31" y="634.0" width="0.95" height="38.5" fill="#f2d0cc"/>
<rect x="501.66" y="634.0" width="0.95" height="40.7" fill="#f2d0cc"/>
<rect x="503.02" y="634.0" width="0.95" height="39.9" fill="#f2d0cc"/>
<rect x="504.37" y="634.0" width="0.95" height="36.6" fill="#f2d0cc"/>
<rect x="505.73" y="634.0" width="0.95" height="36.2" fill="#f2d0cc"/>
<rect x="507.09" y="634.0" width="0.95" height="33.8" fill="#f2d0cc"/>
<rect x="508.44" y="634.0" width="0.95" height="29.8" fill="#f2d0cc"/>
<rect x="509.80" y="634.0" width="0.95" height="19.8" fill="#f2d0cc"/>
<rect x="511.16" y="634.0" width="0.95" height="7.7" fill="#f2d0cc"/>
<rect x="512.51" y="632.5" width="0.95" height="1.5" fill="#cde2c8"/>
<rect x="513.87" y="630.7" width="0.95" height="3.3" fill="#cde2c8"/>
<rect x="515.22" y="630.1" width="0.95" height="3.9" fill="#cde2c8"/>
<rect x="516.58" y="631.1" width="0.95" height="2.9" fill="#cde2c8"/>
<rect x="517.94" y="632.8" width="0.95" height="1.2" fill="#cde2c8"/>
<rect x="519.29" y="634.0" width="0.95" height="0.4" fill="#f2d0cc"/>
<rect x="520.65" y="634.0" width="0.95" height="0.9" fill="#f2d0cc"/>
<rect x="523.36" y="633.6" width="0.95" height="0.4" fill="#cde2c8"/>
<rect x="524.72" y="633.1" width="0.95" height="0.9" fill="#cde2c8"/>
<rect x="527.43" y="634.0" width="0.95" height="0.7" fill="#f2d0cc"/>
<rect x="528.79" y="634.0" width="0.95" height="1.6" fill="#f2d0cc"/>
<rect x="530.14" y="634.0" width="0.95" height="1.9" fill="#f2d0cc"/>
<rect x="531.50" y="634.0" width="0.95" height="1.6" fill="#f2d0cc"/>
<rect x="532.86" y="634.0" width="0.95" height="1.3" fill="#f2d0cc"/>
<rect x="534.21" y="634.0" width="0.95" height="1.1" fill="#f2d0cc"/>
<rect x="535.57" y="634.0" width="0.95" height="0.6" fill="#f2d0cc"/>
<rect x="538.28" y="633.5" width="0.95" height="0.5" fill="#cde2c8"/>
<rect x="539.64" y="633.0" width="0.95" height="1.0" fill="#cde2c8"/>
<rect x="540.99" y="632.6" width="0.95" height="1.4" fill="#cde2c8"/>
<rect x="542.35" y="632.3" width="0.95" height="1.7" fill="#cde2c8"/>
<rect x="543.71" y="631.6" width="0.95" height="2.4" fill="#cde2c8"/>
<rect x="545.06" y="628.9" width="0.95" height="5.1" fill="#cde2c8"/>
<rect x="546.42" y="627.7" width="0.95" height="6.3" fill="#cde2c8"/>
<rect x="547.77" y="627.2" width="0.95" height="6.8" fill="#cde2c8"/>
<rect x="549.13" y="627.7" width="0.95" height="6.3" fill="#cde2c8"/>
<rect x="550.49" y="628.3" width="0.95" height="5.7" fill="#cde2c8"/>
<rect x="551.84" y="630.3" width="0.95" height="3.7" fill="#cde2c8"/>
<rect x="553.20" y="633.0" width="0.95" height="1.0" fill="#cde2c8"/>
<rect x="554.56" y="633.0" width="0.95" height="1.0" fill="#cde2c8"/>
<rect x="555.91" y="632.0" width="0.95" height="2.0" fill="#cde2c8"/>
<rect x="557.27" y="628.5" width="0.95" height="5.5" fill="#cde2c8"/>
<rect x="558.62" y="626.4" width="0.95" height="7.6" fill="#cde2c8"/>
<rect x="559.98" y="627.2" width="0.95" height="6.8" fill="#cde2c8"/>
<rect x="561.34" y="628.8" width="0.95" height="5.2" fill="#cde2c8"/>
<rect x="562.69" y="629.7" width="0.95" height="4.3" fill="#cde2c8"/>
<rect x="564.05" y="627.5" width="0.95" height="6.5" fill="#cde2c8"/>
<rect x="565.41" y="627.0" width="0.95" height="7.0" fill="#cde2c8"/>
<rect x="566.76" y="627.7" width="0.95" height="6.3" fill="#cde2c8"/>
<rect x="568.12" y="627.4" width="0.95" height="6.6" fill="#cde2c8"/>
<rect x="569.47" y="626.4" width="0.95" height="7.6" fill="#cde2c8"/>
<rect x="570.83" y="626.2" width="0.95" height="7.8" fill="#cde2c8"/>
<rect x="572.19" y="628.5" width="0.95" height="5.5" fill="#cde2c8"/>
<rect x="573.54" y="628.3" width="0.95" height="5.7" fill="#cde2c8"/>
<rect x="574.90" y="627.7" width="0.95" height="6.3" fill="#cde2c8"/>
<rect x="576.26" y="627.4" width="0.95" height="6.6" fill="#cde2c8"/>
<rect x="577.61" y="628.4" width="0.95" height="5.6" fill="#cde2c8"/>
<rect x="578.97" y="629.1" width="0.95" height="4.9" fill="#cde2c8"/>
<rect x="580.32" y="629.6" width="0.95" height="4.4" fill="#cde2c8"/>
<rect x="581.68" y="630.1" width="0.95" height="3.9" fill="#cde2c8"/>
<rect x="583.04" y="631.0" width="0.95" height="3.0" fill="#cde2c8"/>
<rect x="584.39" y="631.9" width="0.95" height="2.1" fill="#cde2c8"/>
<rect x="585.75" y="633.2" width="0.95" height="0.8" fill="#cde2c8"/>
<rect x="587.11" y="634.0" width="0.95" height="0.4" fill="#f2d0cc"/>
<rect x="588.46" y="634.0" width="0.95" height="2.1" fill="#f2d0cc"/>
<rect x="589.82" y="634.0" width="0.95" height="5.5" fill="#f2d0cc"/>
<rect x="591.17" y="634.0" width="0.95" height="2.2" fill="#f2d0cc"/>
<rect x="592.53" y="634.0" width="0.95" height="1.5" fill="#f2d0cc"/>
<rect x="593.89" y="634.0" width="0.95" height="2.4" fill="#f2d0cc"/>
<rect x="595.24" y="634.0" width="0.95" height="3.7" fill="#f2d0cc"/>
<rect x="596.60" y="634.0" width="0.95" height="5.3" fill="#f2d0cc"/>
<rect x="597.96" y="634.0" width="0.95" height="6.8" fill="#f2d0cc"/>
<rect x="599.31" y="634.0" width="0.95" height="6.2" fill="#f2d0cc"/>
<rect x="600.67" y="634.0" width="0.95" height="2.2" fill="#f2d0cc"/>
<rect x="602.02" y="634.0" width="0.95" height="0.6" fill="#f2d0cc"/>
<rect x="75.5" y="616" width="23" height="13.5" rx="2.5" fill="#f3453f"/><path d="M81 629.0 L85 633.5 L89 629.0 Z" fill="#f3453f"/><text x="87.0" y="625.25" font-size="7" fill="#ffffff" fill-opacity="0.8" text-anchor="middle" font-family="Liberation Sans, sans-serif">-RD</text>
<rect x="83" y="638.5" width="24.5" height="13.5" rx="2.5" fill="#4bab4f"/><path d="M90 639.0 L94 634.5 L98 639.0 Z" fill="#4bab4f"/><text x="95.25" y="647.75" font-size="7" fill="#ffffff" fill-opacity="0.8" text-anchor="middle" font-family="Liberation Sans, sans-serif">+RD</text>
<rect x="127" y="654" width="24.5" height="13.5" rx="2.5" fill="#4bab4f"/><path d="M134 654.5 L138 650 L142 654.5 Z" fill="#4bab4f"/><text x="139.25" y="663.25" font-size="7" fill="#ffffff" fill-opacity="0.8" text-anchor="middle" font-family="Liberation Sans, sans-serif">+RD</text>
<rect x="408" y="592.5" width="23" height="13.5" rx="2.5" fill="#f3453f"/><path d="M415 605.5 L419 610.5 L423 605.5 Z" fill="#f3453f"/><text x="419.5" y="601.75" font-size="7" fill="#ffffff" fill-opacity="0.8" text-anchor="middle" font-family="Liberation Sans, sans-serif">-RD</text>
<rect x="424" y="594" width="23" height="13.5" rx="2.5" fill="#f3453f"/><path d="M432 607.0 L436 611 L440 607.0 Z" fill="#f3453f"/><text x="435.5" y="603.25" font-size="7" fill="#ffffff" fill-opacity="0.8" text-anchor="middle" font-family="Liberation Sans, sans-serif">-RD</text>
<rect x="432.5" y="598.5" width="23" height="13.5" rx="2.5" fill="#f3453f"/><path d="M439.5 611.5 L443.5 616.5 L447.5 611.5 Z" fill="#f3453f"/><text x="444.0" y="607.75" font-size="7" fill="#ffffff" fill-opacity="0.8" text-anchor="middle" font-family="Liberation Sans, sans-serif">-RD</text>
<rect x="574.4" y="614.4" width="23" height="14" rx="2.5" fill="#f3453f"/><path d="M581.3 627.9 L585.3 633 L589.3 627.9 Z" fill="#f3453f"/><text x="585.9" y="623.9" font-size="7" fill="#ffffff" fill-opacity="0.8" text-anchor="middle" font-family="Liberation Sans, sans-serif">-RD</text>
<!-- flags -->
<circle cx="600.4" cy="565" r="8" fill="none" stroke="#8a5cd0" stroke-width="1.4"/><g><circle cx="612.3" cy="564.5" r="9.3" fill="#fefdf9" stroke="#df3a4b" stroke-width="1.4"/><clipPath id="c1"><circle cx="612.3" cy="564.5" r="7.2"/></clipPath><g clip-path="url(#c1)"><rect x="604.8" y="557.0" width="15" height="15" fill="#ffffff"/><rect x="604.8" y="557.3" width="15" height="2.9" fill="#ea5560"/><rect x="604.8" y="563.1" width="15" height="2.9" fill="#ea5560"/><rect x="604.8" y="568.9" width="15" height="2.9" fill="#ea5560"/><rect x="604.8" y="557.0" width="8" height="9" fill="#4c82e2"/><rect x="606.3" y="558.9" width="1" height="1" fill="#cfe0ff"/><rect x="606.3" y="561.3" width="1" height="1" fill="#cfe0ff"/><rect x="606.3" y="563.7" width="1" height="1" fill="#cfe0ff"/><rect x="608.6" y="558.9" width="1" height="1" fill="#cfe0ff"/><rect x="608.6" y="561.3" width="1" height="1" fill="#cfe0ff"/><rect x="608.6" y="563.7" width="1" height="1" fill="#cfe0ff"/><rect x="610.9" y="558.9" width="1" height="1" fill="#cfe0ff"/><rect x="610.9" y="561.3" width="1" height="1" fill="#cfe0ff"/><rect x="610.9" y="563.7" width="1" height="1" fill="#cfe0ff"/></g></g><path d="M592.5 564 Q593.3 567.6 597 568.4 Q593.3 569.2 592.5 572.8 Q591.7 569.2 588 568.4 Q591.7 567.6 592.5 564Z" fill="#6a4df0" stroke="#fefdf9" stroke-width="1.6" paint-order="stroke"/><g><circle cx="641.7" cy="564.5" r="9.3" fill="#fefdf9" stroke="#df3a4b" stroke-width="1.4"/><clipPath id="c2"><circle cx="641.7" cy="564.5" r="7.2"/></clipPath><g clip-path="url(#c2)"><rect x="634.2" y="557.0" width="15" height="15" fill="#ffffff"/><rect x="634.2" y="557.3" width="15" height="2.9" fill="#ea5560"/><rect x="634.2" y="563.1" width="15" height="2.9" fill="#ea5560"/><rect x="634.2" y="568.9" width="15" height="2.9" fill="#ea5560"/><rect x="634.2" y="557.0" width="8" height="9" fill="#4c82e2"/><rect x="635.7" y="558.9" width="1" height="1" fill="#cfe0ff"/><rect x="635.7" y="561.3" width="1" height="1" fill="#cfe0ff"/><rect x="635.7" y="563.7" width="1" height="1" fill="#cfe0ff"/><rect x="638.0" y="558.9" width="1" height="1" fill="#cfe0ff"/><rect x="638.0" y="561.3" width="1" height="1" fill="#cfe0ff"/><rect x="638.0" y="563.7" width="1" height="1" fill="#cfe0ff"/><rect x="640.3" y="558.9" width="1" height="1" fill="#cfe0ff"/><rect x="640.3" y="561.3" width="1" height="1" fill="#cfe0ff"/><rect x="640.3" y="563.7" width="1" height="1" fill="#cfe0ff"/></g></g><g><circle cx="673.8" cy="564.5" r="9.3" fill="#fefdf9" stroke="#df3a4b" stroke-width="1.4"/><clipPath id="c3"><circle cx="673.8" cy="564.5" r="7.2"/></clipPath><g clip-path="url(#c3)"><rect x="666.3" y="557.0" width="15" height="15" fill="#ffffff"/><rect x="666.3" y="557.3" width="15" height="2.9" fill="#ea5560"/><rect x="666.3" y="563.1" width="15" height="2.9" fill="#ea5560"/><rect x="666.3" y="568.9" width="15" height="2.9" fill="#ea5560"/><rect x="666.3" y="557.0" width="8" height="9" fill="#4c82e2"/><rect x="667.8" y="558.9" width="1" height="1" fill="#cfe0ff"/><rect x="667.8" y="561.3" width="1" height="1" fill="#cfe0ff"/><rect x="667.8" y="563.7" width="1" height="1" fill="#cfe0ff"/><rect x="670.1" y="558.9" width="1" height="1" fill="#cfe0ff"/><rect x="670.1" y="561.3" width="1" height="1" fill="#cfe0ff"/><rect x="670.1" y="563.7" width="1" height="1" fill="#cfe0ff"/><rect x="672.4" y="558.9" width="1" height="1" fill="#cfe0ff"/><rect x="672.4" y="561.3" width="1" height="1" fill="#cfe0ff"/><rect x="672.4" y="563.7" width="1" height="1" fill="#cfe0ff"/></g></g><g><circle cx="709.8" cy="564.5" r="9.3" fill="#fefdf9" stroke="#df3a4b" stroke-width="1.4"/><clipPath id="c4"><circle cx="709.8" cy="564.5" r="7.2"/></clipPath><g clip-path="url(#c4)"><rect x="702.3" y="557.0" width="15" height="15" fill="#ffffff"/><rect x="702.3" y="557.3" width="15" height="2.9" fill="#ea5560"/><rect x="702.3" y="563.1" width="15" height="2.9" fill="#ea5560"/><rect x="702.3" y="568.9" width="15" height="2.9" fill="#ea5560"/><rect x="702.3" y="557.0" width="8" height="9" fill="#4c82e2"/><rect x="703.8" y="558.9" width="1" height="1" fill="#cfe0ff"/><rect x="703.8" y="561.3" width="1" height="1" fill="#cfe0ff"/><rect x="703.8" y="563.7" width="1" height="1" fill="#cfe0ff"/><rect x="706.1" y="558.9" width="1" height="1" fill="#cfe0ff"/><rect x="706.1" y="561.3" width="1" height="1" fill="#cfe0ff"/><rect x="706.1" y="563.7" width="1" height="1" fill="#cfe0ff"/><rect x="708.4" y="558.9" width="1" height="1" fill="#cfe0ff"/><rect x="708.4" y="561.3" width="1" height="1" fill="#cfe0ff"/><rect x="708.4" y="563.7" width="1" height="1" fill="#cfe0ff"/></g></g><g><circle cx="706.3" cy="564.5" r="9.3" fill="#fefdf9" stroke="#df3a4b" stroke-width="1.4"/><clipPath id="c5"><circle cx="706.3" cy="564.5" r="7.2"/></clipPath><g clip-path="url(#c5)"><rect x="698.8" y="557.0" width="15" height="15" fill="#ffffff"/><rect x="698.8" y="557.3" width="15" height="2.9" fill="#ea5560"/><rect x="698.8" y="563.1" width="15" height="2.9" fill="#ea5560"/><rect x="698.8" y="568.9" width="15" height="2.9" fill="#ea5560"/><rect x="698.8" y="557.0" width="8" height="9" fill="#4c82e2"/><rect x="700.3" y="558.9" width="1" height="1" fill="#cfe0ff"/><rect x="700.3" y="561.3" width="1" height="1" fill="#cfe0ff"/><rect x="700.3" y="563.7" width="1" height="1" fill="#cfe0ff"/><rect x="702.6" y="558.9" width="1" height="1" fill="#cfe0ff"/><rect x="702.6" y="561.3" width="1" height="1" fill="#cfe0ff"/><rect x="702.6" y="563.7" width="1" height="1" fill="#cfe0ff"/><rect x="704.9" y="558.9" width="1" height="1" fill="#cfe0ff"/><rect x="704.9" y="561.3" width="1" height="1" fill="#cfe0ff"/><rect x="704.9" y="563.7" width="1" height="1" fill="#cfe0ff"/></g></g><path d="M204.5 577 H226.5 V578.6 H219.5 L215.5 584 L211.5 578.6 H204.5Z" fill="#f0484b"/>
<!-- red separators -->
<rect x="9.4" y="54.7" width="1005.5" height="1.3" fill="#d8606e"/>
<rect x="9.4" y="576.3" width="1005.5" height="1.3" fill="#d8606e"/>
<!-- axis boxes -->
<rect x="13.5" y="60" width="58" height="23.5" rx="3" fill="#fffffc" stroke="#f4f2ed" stroke-width="1"/>
<path d="M16.2 252.9 H74.2 V280.8 H13.7 V255.4 Q13.7 252.9 16.2 252.9Z" fill="#2962ff"/>
<rect x="75.3" y="252.9" width="52" height="14.8" rx="2.5" fill="#2f66f5"/>
<path d="M13.7 281.5 H74.2 V296.3 H16.2 Q13.7 296.3 13.7 293.8Z" fill="#0c0c0c"/>
<text x="944.7" y="638" font-size="11" fill="#343434" font-family="Liberation Sans, sans-serif" textLength="24" lengthAdjust="spacingAndGlyphs">0.00</text>
<rect x="937" y="630.8" width="67.5" height="14.8" rx="2" fill="#f0484b"/>
<circle cx="42" cy="696.5" r="8" fill="#f3f2ee"/>
<circle cx="976" cy="696.5" r="8" fill="#f3f2ee"/>
<!-- TV logo -->
<g transform="translate(10.7,726.3) scale(0.744)" fill="#161616">
<path d="M14 22H7V11H0V4h14v18z"/><circle cx="20" cy="8" r="4"/><path d="M28 22h-8l7.5-18h8L28 22z"/>
</g>
</svg>
<div class="t" style="top:7.5px;font-size:11.5px;line-height:13.8px;color:#1c1c1c;font-weight:normal;left:9.3px;transform-origin:0 50%;transform:scaleX(1.0148);">ol_charles created with TradingView.com, Mar 10, 2026 08:30 UTC+1</div>
<div class="t" style="top:33.0px;font-size:11.5px;line-height:13.8px;color:#343434;font-weight:normal;left:82px;transform-origin:0 50%;transform:scaleX(0.9729);">RSI (14, close)</div>
<div class="t" style="top:33.0px;font-size:11.5px;line-height:13.8px;color:#7e57c2;font-weight:normal;left:163px;transform-origin:0 50%;transform:scaleX(1.0076);">63.22</div>
<div class="t" style="top:33.0px;font-size:11.5px;line-height:13.8px;color:#f6d85e;font-weight:normal;left:199px;transform-origin:0 50%;transform:scaleX(0.9555);">59.17</div>
<div class="t" style="top:65.3px;font-size:11px;line-height:13.2px;color:#343434;font-weight:normal;left:21px;transform-origin:0 50%;transform:scaleX(1.0330);">USD</div>
<div class="t" style="top:64.0px;font-size:11.5px;line-height:13.8px;color:#343434;font-weight:normal;left:82px;transform-origin:0 50%;transform:scaleX(0.9804);">Ethereum / U.S. Dollar · 1h · Coinbase</div>
<div class="t" style="top:64.0px;font-size:11.5px;line-height:13.8px;color:#343434;font-weight:normal;left:281.5px;transform-origin:0 50%;transform:scaleX(0.9494);">O</div>
<div class="t" style="top:64.0px;font-size:11.5px;line-height:13.8px;color:#4870dc;font-weight:normal;left:291px;transform-origin:0 50%;transform:scaleX(1.0164);">2,043.66</div>
<div class="t" style="top:64.0px;font-size:11.5px;line-height:13.8px;color:#343434;font-weight:normal;left:344px;transform-origin:0 50%;transform:scaleX(0.8421);">H</div>
<div class="t" style="top:64.0px;font-size:11.5px;line-height:13.8px;color:#4870dc;font-weight:normal;left:350.6px;transform-origin:0 50%;transform:scaleX(1.0276);">2,059.67</div>
<div class="t" style="top:64.0px;font-size:11.5px;line-height:13.8px;color:#343434;font-weight:normal;left:403.8px;transform-origin:0 50%;transform:scaleX(0.7805);">L</div>
<div class="t" style="top:64.0px;font-size:11.5px;line-height:13.8px;color:#4870dc;font-weight:normal;left:409px;transform-origin:0 50%;transform:scaleX(1.0276);">2,040.54</div>
<div class="t" style="top:64.0px;font-size:11.5px;line-height:13.8px;color:#343434;font-weight:normal;left:463px;transform-origin:0 50%;transform:scaleX(0.9023);">C</div>
<div class="t" style="top:64.0px;font-size:11.5px;line-height:13.8px;color:#4870dc;font-weight:normal;left:470px;transform-origin:0 50%;transform:scaleX(1.0276);">2,052.47</div>
<div class="t" style="top:64.0px;font-size:11.5px;line-height:13.8px;color:#4870dc;font-weight:normal;left:522.5px;transform-origin:0 50%;transform:scaleX(1.0154);">+8.57 (+0.42%)</div>
<div class="t" style="top:79.5px;font-size:11.5px;line-height:13.8px;color:#343434;font-weight:normal;left:82px;transform-origin:0 50%;transform:scaleX(1.0067);">Volume Profile Bar-Magnified Order Blocks [JacobMagleby] (7, 10, Close Engulfs 100% Of Order Block)</div>
<div class="t" style="top:551.9px;font-size:11px;line-height:13.2px;color:#343434;font-weight:normal;right:957.5px;transform-origin:100% 50%;transform:scaleX(1.0974);">1,720.00</div>
<div class="t" style="top:516.0px;font-size:11px;line-height:13.2px;color:#343434;font-weight:normal;right:957.5px;transform-origin:100% 50%;transform:scaleX(1.0974);">1,760.00</div>
<div class="t" style="top:480.1px;font-size:11px;line-height:13.2px;color:#343434;font-weight:normal;right:957.5px;transform-origin:100% 50%;transform:scaleX(1.0974);">1,800.00</div>
<div class="t" style="top:444.2px;font-size:11px;line-height:13.2px;color:#343434;font-weight:normal;right:957.5px;transform-origin:100% 50%;transform:scaleX(1.0974);">1,840.00</div>
<div class="t" style="top:408.3px;font-size:11px;line-height:13.2px;color:#343434;font-weight:normal;right:957.5px;transform-origin:100% 50%;transform:scaleX(1.0974);">1,880.00</div>
<div class="t" style="top:372.3px;font-size:11px;line-height:13.2px;color:#343434;font-weight:normal;right:957.5px;transform-origin:100% 50%;transform:scaleX(1.0974);">1,920.00</div>
<div class="t" style="top:336.4px;font-size:11px;line-height:13.2px;color:#343434;font-weight:normal;right:957.5px;transform-origin:100% 50%;transform:scaleX(1.0974);">1,960.00</div>
<div class="t" style="top:300.5px;font-size:11px;line-height:13.2px;color:#343434;font-weight:normal;right:957.5px;transform-origin:100% 50%;transform:scaleX(1.0974);">2,000.00</div>
<div class="t" style="top:228.7px;font-size:11px;line-height:13.2px;color:#343434;font-weight:normal;right:957.5px;transform-origin:100% 50%;transform:scaleX(1.0974);">2,080.00</div>
<div class="t" style="top:192.7px;font-size:11px;line-height:13.2px;color:#343434;font-weight:normal;right:957.5px;transform-origin:100% 50%;transform:scaleX(1.0974);">2,120.00</div>
<div class="t" style="top:156.8px;font-size:11px;line-height:13.2px;color:#343434;font-weight:normal;right:957.5px;transform-origin:100% 50%;transform:scaleX(1.0974);">2,160.00</div>
<div class="t" style="top:120.9px;font-size:11px;line-height:13.2px;color:#343434;font-weight:normal;right:957.5px;transform-origin:100% 50%;transform:scaleX(1.0974);">2,200.00</div>
<div class="t" style="top:85.0px;font-size:11px;line-height:13.2px;color:#343434;font-weight:normal;right:957.5px;transform-origin:100% 50%;transform:scaleX(1.0974);">2,240.00</div>
<div class="t" style="top:585.5px;font-size:11.5px;line-height:13.8px;color:#343434;font-weight:normal;left:82px;transform-origin:0 50%;transform:scaleX(0.9969);">CVD Divergence Oscillator (2, 21, Periodic, Forex, Yes)</div>
<div class="t" style="top:585.5px;font-size:11.5px;line-height:13.8px;color:#ef5350;font-weight:normal;left:370px;transform-origin:0 50%;transform:scaleX(1.0100);">−6,677.36</div>
<div class="t" style="top:691.0px;font-size:11px;line-height:13.2px;color:#343434;font-weight:normal;left:3.299999999999997px;width:200px;text-align:center;transform-origin:50% 50%;transform:scaleX(1.0776);">23</div>
<div class="t" style="top:691.0px;font-size:11px;line-height:13.2px;color:#343434;font-weight:normal;left:68.39999999999998px;width:200px;text-align:center;transform-origin:50% 50%;transform:scaleX(1.0776);">25</div>
<div class="t" style="top:691.0px;font-size:11px;line-height:13.2px;color:#343434;font-weight:normal;left:133.5px;width:200px;text-align:center;transform-origin:50% 50%;transform:scaleX(1.0776);">27</div>
<div class="t" style="top:691.0px;font-size:11px;line-height:13.2px;color:#343434;font-weight:bold;left:198.59999999999997px;width:200px;text-align:center;transform-origin:50% 50%;transform:scaleX(1.0479);">Mar</div>
<div class="t" style="top:691.0px;font-size:11px;line-height:13.2px;color:#343434;font-weight:normal;left:263.7px;width:200px;text-align:center;transform-origin:50% 50%;transform:scaleX(1.0776);">3</div>
<div class="t" style="top:691.0px;font-size:11px;line-height:13.2px;color:#343434;font-weight:normal;left:328.8px;width:200px;text-align:center;transform-origin:50% 50%;transform:scaleX(1.0776);">5</div>
<div class="t" style="top:691.0px;font-size:11px;line-height:13.2px;color:#343434;font-weight:normal;left:393.9px;width:200px;text-align:center;transform-origin:50% 50%;transform:scaleX(1.0776);">7</div>
<div class="t" style="top:691.0px;font-size:11px;line-height:13.2px;color:#343434;font-weight:normal;left:458.9999999999999px;width:200px;text-align:center;transform-origin:50% 50%;transform:scaleX(1.0776);">9</div>
<div class="t" style="top:691.0px;font-size:11px;line-height:13.2px;color:#343434;font-weight:normal;left:524.0999999999999px;width:200px;text-align:center;transform-origin:50% 50%;transform:scaleX(1.1557);">11</div>
<div class="t" style="top:691.0px;font-size:11px;line-height:13.2px;color:#343434;font-weight:normal;left:589.1999999999999px;width:200px;text-align:center;transform-origin:50% 50%;transform:scaleX(1.0776);">13</div>
<div class="t" style="top:691.0px;font-size:11px;line-height:13.2px;color:#343434;font-weight:normal;left:654.3px;width:200px;text-align:center;transform-origin:50% 50%;transform:scaleX(1.0776);">15</div>
<div class="t" style="top:691.0px;font-size:11px;line-height:13.2px;color:#343434;font-weight:normal;left:719.3999999999999px;width:200px;text-align:center;transform-origin:50% 50%;transform:scaleX(1.0776);">17</div>
<div class="t" style="top:691.0px;font-size:11px;line-height:13.2px;color:#343434;font-weight:normal;left:784.4999999999999px;width:200px;text-align:center;transform-origin:50% 50%;transform:scaleX(1.0776);">19</div>
<div class="t" style="top:593.6px;font-size:11px;line-height:13.2px;color:#343434;font-weight:normal;left:944.7px;transform-origin:0 50%;transform:scaleX(1.1034);">50,000.00</div>
<div class="t" style="top:660.4px;font-size:11px;line-height:13.2px;color:#343434;font-weight:normal;left:944.7px;transform-origin:0 50%;transform:scaleX(1.0980);">−50,000.00</div>
<div class="t" style="top:690.9px;font-size:10px;line-height:12.0px;color:#50535e;font-weight:normal;left:-58px;width:200px;text-align:center;transform-origin:50% 50%;">Z</div>
<div class="t" style="top:690.9px;font-size:10px;line-height:12.0px;color:#50535e;font-weight:normal;left:876px;width:200px;text-align:center;transform-origin:50% 50%;">A</div>
<div class="t" style="top:254.0px;font-size:11px;line-height:13.2px;color:#ffffff;font-weight:normal;right:957.5px;transform-origin:100% 50%;transform:scaleX(1.0974);-webkit-text-stroke:0.1px currentColor;">2,052.47</div>
<div class="t" style="top:267.4px;font-size:11px;line-height:13.2px;color:#c9d6ff;font-weight:normal;right:957.5px;transform-origin:100% 50%;transform:scaleX(1.0715);-webkit-text-stroke:0.1px currentColor;">29:13</div>
<div class="t" style="top:283.0px;font-size:11px;line-height:13.2px;color:#ffffff;font-weight:normal;right:957.5px;transform-origin:100% 50%;transform:scaleX(1.0974);-webkit-text-stroke:0.1px currentColor;">2,023.15</div>
<div class="t" style="top:254.2px;font-size:11px;line-height:13.2px;color:#ffffff;font-weight:normal;left:79.1px;transform-origin:0 50%;transform:scaleX(0.9793);-webkit-text-stroke:0.1px currentColor;">ETHUSD</div>
<div class="t" style="top:632.2px;font-size:11px;line-height:13.2px;color:#ffffff;font-weight:normal;left:944.7px;transform-origin:0 50%;transform:scaleX(1.0964);-webkit-text-stroke:0.1px currentColor;">−6,677.36</div>
<div class="t" style="top:722.5px;font-size:21px;line-height:25.2px;color:#161616;font-weight:bold;left:45.9px;transform-origin:0 50%;transform:scaleX(0.8871);-webkit-text-stroke:0;">TradingView</div>
</body></html>
